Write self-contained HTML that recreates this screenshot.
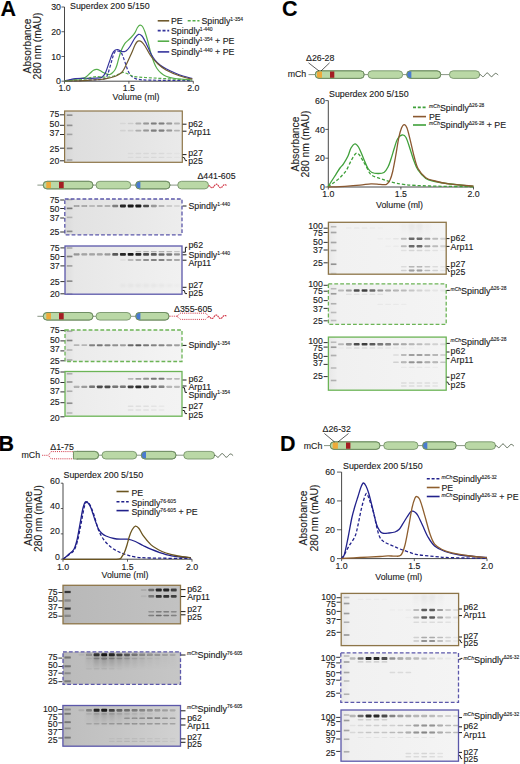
<!DOCTYPE html>
<html><head><meta charset="utf-8"><style>
html,body{margin:0;padding:0;background:#fff;}
svg{display:block;font-family:"Liberation Sans", sans-serif;}
text{stroke:#1a1a1a;stroke-width:0.12px;paint-order:stroke;}
</style></head><body>
<svg width="520" height="764" viewBox="0 0 520 764">
<defs>
<filter id="b1" x="-50%" y="-100%" width="200%" height="300%"><feGaussianBlur stdDeviation="0.6"/></filter>
<filter id="b2" x="-50%" y="-100%" width="200%" height="300%"><feGaussianBlur stdDeviation="1.2"/></filter>
<linearGradient id="g1" x1="0" y1="0" x2="1" y2="0"><stop offset="0" stop-color="#d6d6d6"/><stop offset="0.08" stop-color="#dedede"/><stop offset="0.5" stop-color="#e3e3e3"/><stop offset="1" stop-color="#eaeaea"/></linearGradient>
<linearGradient id="g2" x1="0" y1="0" x2="1" y2="0"><stop offset="0" stop-color="#dadada"/><stop offset="0.08" stop-color="#e2e2e2"/><stop offset="0.6" stop-color="#e8e8e8"/><stop offset="1" stop-color="#ededed"/></linearGradient>
<linearGradient id="g3" x1="0" y1="0" x2="1" y2="0"><stop offset="0" stop-color="#dddddd"/><stop offset="0.08" stop-color="#e7e7e7"/><stop offset="0.6" stop-color="#ededed"/><stop offset="1" stop-color="#f1f1f1"/></linearGradient>
<linearGradient id="g4" x1="0" y1="0" x2="1" y2="0"><stop offset="0" stop-color="#e1e1e1"/><stop offset="0.08" stop-color="#ebebeb"/><stop offset="0.6" stop-color="#f0f0f0"/><stop offset="1" stop-color="#f4f4f4"/></linearGradient>
<linearGradient id="g5" x1="0" y1="0" x2="1" y2="0"><stop offset="0" stop-color="#e3e3e3"/><stop offset="0.08" stop-color="#ececec"/><stop offset="0.6" stop-color="#f1f1f1"/><stop offset="1" stop-color="#f3f3f3"/></linearGradient>
<linearGradient id="g6" x1="0" y1="0" x2="1" y2="0"><stop offset="0" stop-color="#b1b1b1"/><stop offset="0.08" stop-color="#b9b9b9"/><stop offset="0.5" stop-color="#bdbdbd"/><stop offset="1" stop-color="#c2c2c2"/></linearGradient>
<linearGradient id="g7" x1="0" y1="0" x2="1" y2="0"><stop offset="0" stop-color="#b5b5b5"/><stop offset="0.08" stop-color="#bcbcbc"/><stop offset="0.5" stop-color="#c0c0c0"/><stop offset="1" stop-color="#c6c6c6"/></linearGradient>
<linearGradient id="g8" x1="0" y1="0" x2="0" y2="1"><stop offset="0" stop-color="#141414" stop-opacity="1"/><stop offset="1" stop-color="#141414" stop-opacity="0"/></linearGradient>
<linearGradient id="g9" x1="0" y1="0" x2="1" y2="0"><stop offset="0" stop-color="#b8b8b8"/><stop offset="0.08" stop-color="#bfbfbf"/><stop offset="0.5" stop-color="#c6c6c6"/><stop offset="1" stop-color="#d2d2d2"/></linearGradient>
<linearGradient id="g10" x1="0" y1="0" x2="0" y2="1"><stop offset="0" stop-color="#141414" stop-opacity="1"/><stop offset="1" stop-color="#141414" stop-opacity="0"/></linearGradient>
<linearGradient id="g11" x1="0" y1="0" x2="1" y2="0"><stop offset="0" stop-color="#e8e8e8"/><stop offset="0.08" stop-color="#f1f1f1"/><stop offset="1" stop-color="#f4f4f4"/></linearGradient>
<linearGradient id="g12" x1="0" y1="0" x2="0" y2="1"><stop offset="0" stop-color="#141414" stop-opacity="1"/><stop offset="1" stop-color="#141414" stop-opacity="0"/></linearGradient>
<linearGradient id="g13" x1="0" y1="0" x2="1" y2="0"><stop offset="0" stop-color="#e9e9e9"/><stop offset="0.08" stop-color="#f1f1f1"/><stop offset="1" stop-color="#f4f4f4"/></linearGradient>
<linearGradient id="g14" x1="0" y1="0" x2="1" y2="0"><stop offset="0" stop-color="#e8e8e8"/><stop offset="0.08" stop-color="#f0f0f0"/><stop offset="1" stop-color="#f4f4f4"/></linearGradient>
<linearGradient id="g15" x1="0" y1="0" x2="1" y2="0"><stop offset="0" stop-color="#e8e8e8"/><stop offset="0.08" stop-color="#f1f1f1"/><stop offset="1" stop-color="#f4f4f4"/></linearGradient>
<linearGradient id="g16" x1="0" y1="0" x2="0" y2="1"><stop offset="0" stop-color="#141414" stop-opacity="1"/><stop offset="1" stop-color="#141414" stop-opacity="0"/></linearGradient>
<linearGradient id="g17" x1="0" y1="0" x2="1" y2="0"><stop offset="0" stop-color="#e9e9e9"/><stop offset="0.08" stop-color="#f1f1f1"/><stop offset="1" stop-color="#f4f4f4"/></linearGradient>
<linearGradient id="g18" x1="0" y1="0" x2="1" y2="0"><stop offset="0" stop-color="#e8e8e8"/><stop offset="0.08" stop-color="#f0f0f0"/><stop offset="1" stop-color="#f4f4f4"/></linearGradient>
</defs>
<rect width="520" height="764" fill="#fff"/>
<text x="0.60" y="15.60" font-size="21.5" text-anchor="start" font-weight="bold" fill="#000" >A</text>
<text x="-1.60" y="450.90" font-size="21.5" text-anchor="start" font-weight="bold" fill="#000" >B</text>
<text x="282.10" y="15.80" font-size="21.5" text-anchor="start" font-weight="bold" fill="#000" >C</text>
<text x="279.90" y="451.00" font-size="21.5" text-anchor="start" font-weight="bold" fill="#000" >D</text>
<line x1="64.50" y1="7.00" x2="64.50" y2="81.20" stroke="#333" stroke-width="0.9" />
<line x1="64.50" y1="81.20" x2="193.30" y2="81.20" stroke="#333" stroke-width="0.9" />
<line x1="61.50" y1="81.20" x2="64.50" y2="81.20" stroke="#333" stroke-width="0.8" />
<text x="61.00" y="84.30" font-size="8.8" text-anchor="end" font-weight="normal" fill="#1a1a1a" >0</text>
<line x1="61.50" y1="56.47" x2="64.50" y2="56.47" stroke="#333" stroke-width="0.8" />
<text x="61.00" y="59.57" font-size="8.8" text-anchor="end" font-weight="normal" fill="#1a1a1a" >10</text>
<line x1="61.50" y1="31.73" x2="64.50" y2="31.73" stroke="#333" stroke-width="0.8" />
<text x="61.00" y="34.83" font-size="8.8" text-anchor="end" font-weight="normal" fill="#1a1a1a" >20</text>
<line x1="61.50" y1="7.00" x2="64.50" y2="7.00" stroke="#333" stroke-width="0.8" />
<text x="61.00" y="10.10" font-size="8.8" text-anchor="end" font-weight="normal" fill="#1a1a1a" >30</text>
<line x1="64.50" y1="81.20" x2="64.50" y2="83.70" stroke="#333" stroke-width="0.8" />
<text x="64.50" y="90.90" font-size="8.8" text-anchor="middle" font-weight="normal" fill="#1a1a1a" >1.0</text>
<line x1="128.90" y1="81.20" x2="128.90" y2="83.70" stroke="#333" stroke-width="0.8" />
<text x="128.90" y="90.90" font-size="8.8" text-anchor="middle" font-weight="normal" fill="#1a1a1a" >1.5</text>
<line x1="193.30" y1="81.20" x2="193.30" y2="83.70" stroke="#333" stroke-width="0.8" />
<text x="193.30" y="90.90" font-size="8.8" text-anchor="middle" font-weight="normal" fill="#1a1a1a" >2.0</text>
<text x="136.00" y="99.50" font-size="8.8" text-anchor="middle" font-weight="normal" fill="#1a1a1a" >Volume (ml)</text>
<text transform="translate(30.50,46.00) rotate(-90)" font-size="10.3" text-anchor="middle" fill="#1a1a1a">Absorbance</text>
<text transform="translate(41.00,46.00) rotate(-90)" font-size="10.3" text-anchor="middle" fill="#1a1a1a">280 nm (mAU)</text>
<text x="70.00" y="8.60" font-size="8.85" text-anchor="start" font-weight="normal" fill="#1a1a1a" >Superdex 200 5/150</text>
<path d="M64.50,81.00 C65.42,80.88 67.75,80.63 70.00,80.30 C72.25,79.97 75.50,79.47 78.00,79.00 C80.50,78.53 83.00,78.45 85.00,77.50 C87.00,76.55 88.58,74.50 90.00,73.30 C91.42,72.10 92.35,70.95 93.50,70.30 C94.65,69.65 95.73,69.32 96.90,69.40 C98.07,69.48 99.35,70.23 100.50,70.80 C101.65,71.37 102.72,72.23 103.80,72.80 C104.88,73.37 105.98,73.92 107.00,74.20 C108.02,74.48 108.98,74.73 109.90,74.50 C110.82,74.27 111.65,73.58 112.50,72.80 C113.35,72.02 114.28,71.02 115.00,69.80 C115.72,68.58 116.22,67.23 116.80,65.50 C117.38,63.77 117.78,61.85 118.50,59.40 C119.22,56.95 120.08,53.40 121.10,50.80 C122.12,48.20 123.45,45.53 124.60,43.80 C125.75,42.07 126.85,41.53 128.00,40.40 C129.15,39.27 130.33,38.30 131.50,37.00 C132.67,35.70 134.00,34.18 135.00,32.60 C136.00,31.02 136.67,28.75 137.50,27.50 C138.33,26.25 139.17,25.27 140.00,25.10 C140.83,24.93 141.67,25.35 142.50,26.50 C143.33,27.65 144.08,29.42 145.00,32.00 C145.92,34.58 147.03,38.50 148.00,42.00 C148.97,45.50 149.80,49.58 150.80,53.00 C151.80,56.42 152.97,59.92 154.00,62.50 C155.03,65.08 155.83,66.75 157.00,68.50 C158.17,70.25 159.50,71.72 161.00,73.00 C162.50,74.28 163.67,75.28 166.00,76.20 C168.33,77.12 170.62,77.87 175.00,78.50 C179.38,79.13 189.42,79.75 192.30,80.00" fill="none" stroke="#55ad4a" stroke-width="1.2" stroke-linejoin="round" />
<path d="M64.50,81.00 C65.42,80.77 68.18,80.00 70.00,79.60 C71.82,79.20 72.90,78.82 75.40,78.60 C77.90,78.38 81.73,78.37 85.00,78.30 C88.27,78.23 92.15,78.40 95.00,78.20 C97.85,78.00 100.33,78.07 102.10,77.10 C103.87,76.13 104.45,74.77 105.60,72.40 C106.75,70.03 107.85,66.07 109.00,62.90 C110.15,59.73 111.50,55.50 112.50,53.40 C113.50,51.30 114.13,50.95 115.00,50.30 C115.87,49.65 116.87,49.47 117.70,49.50 C118.53,49.53 119.28,50.15 120.00,50.50 C120.72,50.85 121.33,51.42 122.00,51.60 C122.67,51.78 123.28,51.73 124.00,51.60 C124.72,51.47 125.30,51.65 126.30,50.80 C127.30,49.95 128.55,48.67 130.00,46.50 C131.45,44.33 133.58,39.83 135.00,37.80 C136.42,35.77 137.33,34.60 138.50,34.30 C139.67,34.00 140.75,34.55 142.00,36.00 C143.25,37.45 144.53,40.08 146.00,43.00 C147.47,45.92 149.30,50.67 150.80,53.50 C152.30,56.33 153.47,58.08 155.00,60.00 C156.53,61.92 158.17,63.53 160.00,65.00 C161.83,66.47 163.50,67.47 166.00,68.80 C168.50,70.13 172.17,71.80 175.00,73.00 C177.83,74.20 180.12,75.08 183.00,76.00 C185.88,76.92 190.75,78.08 192.30,78.50" fill="none" stroke="#35349c" stroke-width="1.2" stroke-linejoin="round" />
<path d="M64.50,81.00 C67.08,80.93 74.92,80.80 80.00,80.60 C85.08,80.40 91.33,80.03 95.00,79.80 C98.67,79.57 100.23,79.43 102.00,79.20 C103.77,78.97 104.63,79.27 105.60,78.40 C106.57,77.53 107.08,75.87 107.80,74.00 C108.52,72.13 109.23,69.45 109.90,67.20 C110.57,64.95 111.22,62.52 111.80,60.50 C112.38,58.48 112.87,56.52 113.40,55.10 C113.93,53.68 114.43,52.72 115.00,52.00 C115.57,51.28 116.13,50.92 116.80,50.80 C117.47,50.68 118.28,51.02 119.00,51.30 C119.72,51.58 120.47,51.72 121.10,52.50 C121.73,53.28 122.22,54.57 122.80,56.00 C123.38,57.43 124.02,59.43 124.60,61.10 C125.18,62.77 125.73,64.40 126.30,66.00 C126.87,67.60 127.22,69.12 128.00,70.70 C128.78,72.28 129.83,74.22 131.00,75.50 C132.17,76.78 133.17,77.68 135.00,78.40 C136.83,79.12 137.83,79.48 142.00,79.80 C146.17,80.12 151.67,80.17 160.00,80.30 C168.33,80.43 186.67,80.55 192.00,80.60" fill="none" stroke="#35349c" stroke-width="1.2" stroke-linejoin="round" stroke-dasharray="3,1.8"/>
<path d="M64.50,81.00 C66.25,80.88 71.58,80.63 75.00,80.30 C78.42,79.97 82.17,79.52 85.00,79.00 C87.83,78.48 90.02,77.60 92.00,77.20 C93.98,76.80 95.23,76.63 96.90,76.60 C98.57,76.57 100.27,76.92 102.00,77.00 C103.73,77.08 105.30,77.27 107.30,77.10 C109.30,76.93 112.05,76.52 114.00,76.00 C115.95,75.48 117.52,74.60 119.00,74.00 C120.48,73.40 121.57,72.48 122.90,72.40 C124.23,72.32 125.65,72.98 127.00,73.50 C128.35,74.02 129.67,74.97 131.00,75.50 C132.33,76.03 132.67,76.37 135.00,76.70 C137.33,77.03 139.83,77.17 145.00,77.50 C150.17,77.83 158.17,78.28 166.00,78.70 C173.83,79.12 187.67,79.78 192.00,80.00" fill="none" stroke="#55ad4a" stroke-width="1.2" stroke-linejoin="round" stroke-dasharray="3,1.8"/>
<path d="M64.50,81.00 C67.08,80.97 75.75,80.93 80.00,80.80 C84.25,80.67 86.67,80.42 90.00,80.20 C93.33,79.98 97.12,79.80 100.00,79.50 C102.88,79.20 105.13,78.82 107.30,78.40 C109.47,77.98 111.30,77.53 113.00,77.00 C114.70,76.47 116.17,75.87 117.50,75.20 C118.83,74.53 119.95,73.95 121.00,73.00 C122.05,72.05 122.92,70.90 123.80,69.50 C124.68,68.10 125.15,67.00 126.30,64.60 C127.45,62.20 129.25,58.35 130.70,55.10 C132.15,51.85 133.90,47.37 135.00,45.10 C136.10,42.83 136.60,42.22 137.30,41.50 C138.00,40.78 138.50,40.75 139.20,40.80 C139.90,40.85 140.53,40.93 141.50,41.80 C142.47,42.67 143.45,43.63 145.00,46.00 C146.55,48.37 148.63,53.00 150.80,56.00 C152.97,59.00 155.47,61.67 158.00,64.00 C160.53,66.33 162.33,68.00 166.00,70.00 C169.67,72.00 175.62,74.47 180.00,76.00 C184.38,77.53 190.25,78.67 192.30,79.20" fill="none" stroke="#6f5a2e" stroke-width="1.2" stroke-linejoin="round" />
<line x1="157.70" y1="20.80" x2="169.20" y2="20.80" stroke="#6f5a2e" stroke-width="1.6" />
<text x="171.00" y="24.00" font-size="8.8" text-anchor="start" font-weight="normal" fill="#1a1a1a" >PE</text>
<line x1="187.70" y1="20.80" x2="199.50" y2="20.80" stroke="#55ad4a" stroke-width="1.6" stroke-dasharray="3,1.8"/>
<text x="201.50" y="24.00" text-anchor="start" fill="#1a1a1a"><tspan font-size="8.8" dy="0">Spindly</tspan><tspan font-size="5.0" dy="-3.2">1-354</tspan></text>
<line x1="157.70" y1="30.60" x2="169.20" y2="30.60" stroke="#35349c" stroke-width="1.6" stroke-dasharray="3,1.8"/>
<text x="171.00" y="33.80" text-anchor="start" fill="#1a1a1a"><tspan font-size="8.8" dy="0">Spindly</tspan><tspan font-size="5.0" dy="-3.2">1-440</tspan></text>
<line x1="157.70" y1="41.20" x2="169.20" y2="41.20" stroke="#55ad4a" stroke-width="1.6" />
<text x="171.00" y="44.40" text-anchor="start" fill="#1a1a1a"><tspan font-size="8.8" dy="0">Spindly</tspan><tspan font-size="5.0" dy="-3.2">1-354</tspan><tspan font-size="8.8" dy="3.2"> + PE</tspan></text>
<line x1="157.70" y1="51.90" x2="169.20" y2="51.90" stroke="#35349c" stroke-width="1.6" />
<text x="171.00" y="55.00" text-anchor="start" fill="#1a1a1a"><tspan font-size="8.8" dy="0">Spindly</tspan><tspan font-size="5.0" dy="-3.2">1-440</tspan><tspan font-size="8.8" dy="3.2"> + PE</tspan></text>
<line x1="37.40" y1="185.10" x2="43.20" y2="185.10" stroke="#6b7b66" stroke-width="0.8" />
<line x1="93.00" y1="185.10" x2="96.00" y2="185.10" stroke="#6b7b66" stroke-width="0.8" />
<line x1="130.80" y1="185.10" x2="135.70" y2="185.10" stroke="#6b7b66" stroke-width="0.8" />
<line x1="170.00" y1="185.10" x2="177.70" y2="185.10" stroke="#6b7b66" stroke-width="0.8" />
<rect x="43.20" y="181.30" width="49.80" height="7.60" rx="3.80" ry="3.80" fill="#bad8a6" stroke="#6b8a5e" stroke-width="0.8" />
<rect x="96.00" y="181.30" width="34.80" height="7.60" rx="3.80" ry="3.80" fill="#bad8a6" stroke="#6b8a5e" stroke-width="0.8" />
<rect x="135.70" y="181.30" width="34.30" height="7.60" rx="3.80" ry="3.80" fill="#bad8a6" stroke="#6b8a5e" stroke-width="0.8" />
<rect x="177.70" y="181.30" width="30.80" height="7.60" rx="3.80" ry="3.80" fill="#bad8a6" stroke="#6b8a5e" stroke-width="0.8" />
<rect x="46.30" y="181.90" width="4.70" height="6.40" fill="#eeaa3a"/>
<rect x="59.00" y="181.90" width="4.70" height="6.40" fill="#a41d22"/>
<path d="M139.50,181.70 A3.40,3.40 0 0 0 139.50,188.50 L140.40,188.50 L140.40,181.70 Z" fill="#4a7bd0"/>
<rect x="43.20" y="181.30" width="49.80" height="7.6" rx="3.8" ry="3.8" fill="none" stroke="#6b8a5e" stroke-width="0.8"/>
<rect x="135.70" y="181.30" width="34.30" height="7.6" rx="3.8" ry="3.8" fill="none" stroke="#6b8a5e" stroke-width="0.8"/>
<path d="M208.80,186.00 L209.31,185.89 L209.81,185.96 L210.32,186.49 L210.82,187.09 L211.33,187.53 L211.83,187.77 L212.34,187.77 L212.84,187.52 L213.35,187.07 L213.86,186.47 L214.36,185.81 L214.87,185.17 L215.37,184.65 L215.88,184.31 L216.38,184.20 L216.89,184.34 L217.39,184.70 L217.90,185.24 L218.41,185.89 L218.91,186.55 L219.42,187.13 L219.92,187.56 L220.43,187.78 L220.93,187.76 L221.44,187.49 L221.94,187.00 L222.45,186.39 L222.96,185.78 L223.46,185.23 L223.97,184.83 L224.47,184.62 L224.98,184.61 L225.48,184.79 L225.99,185.11 L226.49,185.52 L227.00,185.96" fill="none" stroke="#d23a4a" stroke-width="1.2" stroke-linecap="round" stroke-linejoin="round" stroke-dasharray="0.8,1.6"/>
<text x="197.40" y="178.50" font-size="8.8" text-anchor="start" font-weight="normal" fill="#1a1a1a" >Δ441-605</text>
<line x1="37.40" y1="316.30" x2="43.20" y2="316.30" stroke="#6b7b66" stroke-width="0.8" />
<line x1="93.00" y1="316.30" x2="96.00" y2="316.30" stroke="#6b7b66" stroke-width="0.8" />
<line x1="130.80" y1="316.30" x2="135.70" y2="316.30" stroke="#6b7b66" stroke-width="0.8" />
<rect x="43.20" y="312.50" width="49.80" height="7.60" rx="3.80" ry="3.80" fill="#bad8a6" stroke="#6b8a5e" stroke-width="0.8" />
<rect x="96.00" y="312.50" width="34.80" height="7.60" rx="3.80" ry="3.80" fill="#bad8a6" stroke="#6b8a5e" stroke-width="0.8" />
<rect x="135.70" y="312.50" width="33.30" height="7.60" rx="3.80" ry="3.80" fill="#bad8a6" stroke="#6b8a5e" stroke-width="0.8" />
<rect x="46.30" y="313.10" width="4.70" height="6.40" fill="#eeaa3a"/>
<rect x="59.00" y="313.10" width="4.70" height="6.40" fill="#a41d22"/>
<path d="M139.50,312.90 A3.40,3.40 0 0 0 139.50,319.70 L140.40,319.70 L140.40,312.90 Z" fill="#4a7bd0"/>
<rect x="43.20" y="312.50" width="49.80" height="7.6" rx="3.8" ry="3.8" fill="none" stroke="#6b8a5e" stroke-width="0.8"/>
<rect x="135.70" y="312.50" width="33.30" height="7.6" rx="3.8" ry="3.8" fill="none" stroke="#6b8a5e" stroke-width="0.8"/>
<line x1="169.60" y1="316.20" x2="176.80" y2="316.20" stroke="#cf2f40" stroke-width="1.0" stroke-dasharray="1,1.1"/>
<polygon points="176.8,316.2 180.6,313.2 205.6,313.2 208.6,316.2 205.6,319.4 180.6,319.4" fill="none" stroke="#cf2f40" stroke-width="1.0" stroke-dasharray="1,1.1"/>
<path d="M208.50,316.80 L209.01,316.69 L209.53,316.76 L210.04,317.29 L210.56,317.89 L211.07,318.33 L211.58,318.57 L212.10,318.57 L212.61,318.32 L213.12,317.87 L213.64,317.27 L214.15,316.61 L214.67,315.97 L215.18,315.45 L215.69,315.11 L216.21,315.00 L216.72,315.14 L217.24,315.50 L217.75,316.04 L218.26,316.69 L218.78,317.35 L219.29,317.93 L219.81,318.36 L220.32,318.58 L220.83,318.56 L221.35,318.29 L221.86,317.80 L222.38,317.19 L222.89,316.58 L223.40,316.03 L223.92,315.63 L224.43,315.42 L224.94,315.41 L225.46,315.59 L225.97,315.91 L226.49,316.32 L227.00,316.76" fill="none" stroke="#d23a4a" stroke-width="1.2" stroke-linecap="round" stroke-linejoin="round" stroke-dasharray="0.8,1.6"/>
<text x="174.00" y="311.50" font-size="8.8" text-anchor="start" font-weight="normal" fill="#1a1a1a" >Δ355-605</text>
<text x="21.50" y="458.00" font-size="8.8" text-anchor="start" font-weight="normal" fill="#1a1a1a" >mCh</text>
<line x1="42.20" y1="455.30" x2="48.40" y2="455.30" stroke="#cf2f40" stroke-width="1.0" stroke-dasharray="1,1.1"/>
<polygon points="48.4,455.3 51.0,451.6 73.4,451.6 73.4,458.8 51.0,458.8" fill="none" stroke="#cf2f40" stroke-width="1.0" stroke-dasharray="1,1.1"/>
<line x1="98.60" y1="455.20" x2="102.00" y2="455.20" stroke="#6b7b66" stroke-width="0.8" />
<line x1="136.70" y1="455.20" x2="141.30" y2="455.20" stroke="#6b7b66" stroke-width="0.8" />
<line x1="176.00" y1="455.20" x2="183.70" y2="455.20" stroke="#6b7b66" stroke-width="0.8" />
<rect x="73.50" y="451.40" width="25.10" height="7.60" rx="3.80" ry="3.80" fill="#bad8a6" stroke="#6b8a5e" stroke-width="0.8" />
<rect x="102.00" y="451.40" width="34.70" height="7.60" rx="3.80" ry="3.80" fill="#bad8a6" stroke="#6b8a5e" stroke-width="0.8" />
<rect x="141.30" y="451.40" width="34.70" height="7.60" rx="3.80" ry="3.80" fill="#bad8a6" stroke="#6b8a5e" stroke-width="0.8" />
<rect x="183.70" y="451.40" width="30.90" height="7.60" rx="3.80" ry="3.80" fill="#bad8a6" stroke="#6b8a5e" stroke-width="0.8" />
<path d="M145.10,451.80 A3.40,3.40 0 0 0 145.10,458.60 L146.00,458.60 L146.00,451.80 Z" fill="#4a7bd0"/>
<rect x="73.50" y="451.40" width="25.10" height="7.6" rx="3.8" ry="3.8" fill="none" stroke="#6b8a5e" stroke-width="0.8"/>
<rect x="141.30" y="451.40" width="34.70" height="7.6" rx="3.8" ry="3.8" fill="none" stroke="#6b8a5e" stroke-width="0.8"/>
<rect x="73.2" y="451.4" width="4" height="7.6" fill="#bad8a6" stroke="none"/>
<line x1="73.50" y1="451.40" x2="73.50" y2="459.00" stroke="#6b8a5e" stroke-width="0.8" />
<line x1="73.50" y1="451.40" x2="78.00" y2="451.40" stroke="#6b8a5e" stroke-width="0.8" />
<line x1="73.50" y1="459.00" x2="78.00" y2="459.00" stroke="#6b8a5e" stroke-width="0.8" />
<path d="M214.60,455.40 L215.11,455.29 L215.61,455.36 L216.12,455.89 L216.62,456.49 L217.13,456.93 L217.63,457.17 L218.14,457.17 L218.64,456.92 L219.15,456.47 L219.66,455.87 L220.16,455.21 L220.67,454.57 L221.17,454.05 L221.68,453.71 L222.18,453.60 L222.69,453.74 L223.19,454.10 L223.70,454.64 L224.21,455.29 L224.71,455.95 L225.22,456.53 L225.72,456.96 L226.23,457.18 L226.73,457.16 L227.24,456.89 L227.74,456.40 L228.25,455.79 L228.76,455.18 L229.26,454.63 L229.77,454.23 L230.27,454.02 L230.78,454.01 L231.28,454.19 L231.79,454.51 L232.29,454.92 L232.80,455.36" fill="none" stroke="#55654f" stroke-width="1.0" stroke-linecap="round" stroke-linejoin="round" />
<text x="50.30" y="450.00" font-size="8.8" text-anchor="start" font-weight="normal" fill="#1a1a1a" >Δ1-75</text>
<line x1="63.00" y1="483.20" x2="63.00" y2="559.20" stroke="#333" stroke-width="0.9" />
<line x1="63.00" y1="559.20" x2="192.00" y2="559.20" stroke="#333" stroke-width="0.9" />
<line x1="60.80" y1="559.20" x2="63.00" y2="559.20" stroke="#333" stroke-width="0.8" />
<text x="59.90" y="559.60" font-size="8.8" text-anchor="end" font-weight="normal" fill="#1a1a1a" >0</text>
<line x1="60.80" y1="533.87" x2="63.00" y2="533.87" stroke="#333" stroke-width="0.8" />
<text x="59.90" y="534.27" font-size="8.8" text-anchor="end" font-weight="normal" fill="#1a1a1a" >20</text>
<line x1="60.80" y1="508.53" x2="63.00" y2="508.53" stroke="#333" stroke-width="0.8" />
<text x="59.90" y="508.93" font-size="8.8" text-anchor="end" font-weight="normal" fill="#1a1a1a" >40</text>
<line x1="60.80" y1="483.20" x2="63.00" y2="483.20" stroke="#333" stroke-width="0.8" />
<text x="59.90" y="483.60" font-size="8.8" text-anchor="end" font-weight="normal" fill="#1a1a1a" >60</text>
<line x1="63.00" y1="559.20" x2="63.00" y2="561.70" stroke="#333" stroke-width="0.8" />
<text x="63.00" y="569.80" font-size="8.8" text-anchor="middle" font-weight="normal" fill="#1a1a1a" >1.0</text>
<line x1="127.50" y1="559.20" x2="127.50" y2="561.70" stroke="#333" stroke-width="0.8" />
<text x="127.50" y="569.80" font-size="8.8" text-anchor="middle" font-weight="normal" fill="#1a1a1a" >1.5</text>
<line x1="192.00" y1="559.20" x2="192.00" y2="561.70" stroke="#333" stroke-width="0.8" />
<text x="192.00" y="569.80" font-size="8.8" text-anchor="middle" font-weight="normal" fill="#1a1a1a" >2.0</text>
<text x="125.00" y="578.00" font-size="8.8" text-anchor="middle" font-weight="normal" fill="#1a1a1a" >Volume (ml)</text>
<text transform="translate(31.90,518.50) rotate(-90)" font-size="10.3" text-anchor="middle" fill="#1a1a1a">Absorbance</text>
<text transform="translate(41.80,518.50) rotate(-90)" font-size="10.3" text-anchor="middle" fill="#1a1a1a">280 nm (mAU)</text>
<text x="63.50" y="477.70" font-size="8.85" text-anchor="start" font-weight="normal" fill="#1a1a1a" >Superdex 200 5/150</text>
<path d="M63.00,559.20 C63.83,558.50 66.20,556.62 68.00,555.00 C69.80,553.38 72.30,552.00 73.80,549.50 C75.30,547.00 75.97,544.25 77.00,540.00 C78.03,535.75 79.00,529.33 80.00,524.00 C81.00,518.67 82.07,511.70 83.00,508.00 C83.93,504.30 84.68,502.55 85.60,501.80 C86.52,501.05 87.60,502.47 88.50,503.50 C89.40,504.53 89.92,505.25 91.00,508.00 C92.08,510.75 93.75,516.50 95.00,520.00 C96.25,523.50 97.33,526.75 98.50,529.00 C99.67,531.25 100.75,532.33 102.00,533.50 C103.25,534.67 104.00,535.17 106.00,536.00 C108.00,536.83 111.42,537.97 114.00,538.50 C116.58,539.03 119.22,539.08 121.50,539.20 C123.78,539.32 125.38,538.82 127.70,539.20 C130.02,539.58 132.85,540.45 135.40,541.50 C137.95,542.55 140.43,544.22 143.00,545.50 C145.57,546.78 146.97,547.68 150.80,549.20 C154.63,550.72 161.13,553.30 166.00,554.60 C170.87,555.90 175.87,556.48 180.00,557.00 C184.13,557.52 189.00,557.58 190.80,557.70" fill="none" stroke="#20208a" stroke-width="1.3" stroke-linejoin="round" />
<path d="M63.00,559.20 C63.83,558.58 66.20,556.95 68.00,555.50 C69.80,554.05 72.22,552.92 73.80,550.50 C75.38,548.08 76.30,545.42 77.50,541.00 C78.70,536.58 79.83,529.83 81.00,524.00 C82.17,518.17 83.50,509.67 84.50,506.00 C85.50,502.33 86.08,502.17 87.00,502.00 C87.92,501.83 88.83,502.83 90.00,505.00 C91.17,507.17 92.58,510.83 94.00,515.00 C95.42,519.17 96.83,525.83 98.50,530.00 C100.17,534.17 101.95,537.17 104.00,540.00 C106.05,542.83 108.47,545.08 110.80,547.00 C113.13,548.92 115.43,550.23 118.00,551.50 C120.57,552.77 123.30,553.68 126.20,554.60 C129.10,555.52 131.43,556.43 135.40,557.00 C139.37,557.57 140.77,557.75 150.00,558.00 C159.23,558.25 184.00,558.42 190.80,558.50" fill="none" stroke="#20208a" stroke-width="1.3" stroke-linejoin="round" stroke-dasharray="3.2,2"/>
<path d="M63.00,559.40 C69.17,559.38 90.75,559.33 100.00,559.30 C109.25,559.27 114.83,559.67 118.50,559.20 C122.17,558.73 120.98,557.70 122.00,556.50 C123.02,555.30 123.77,553.92 124.60,552.00 C125.43,550.08 126.23,547.50 127.00,545.00 C127.77,542.50 128.37,539.50 129.20,537.00 C130.03,534.50 130.97,531.80 132.00,530.00 C133.03,528.20 134.23,526.45 135.40,526.20 C136.57,525.95 137.73,526.97 139.00,528.50 C140.27,530.03 141.03,532.72 143.00,535.40 C144.97,538.08 148.30,542.25 150.80,544.60 C153.30,546.95 155.47,548.10 158.00,549.50 C160.53,550.90 162.67,551.92 166.00,553.00 C169.33,554.08 173.87,555.22 178.00,556.00 C182.13,556.78 188.67,557.42 190.80,557.70" fill="none" stroke="#6b5520" stroke-width="1.3" stroke-linejoin="round" />
<line x1="116.50" y1="491.50" x2="128.70" y2="491.50" stroke="#6b5520" stroke-width="1.6" />
<text x="131.50" y="495.60" font-size="8.8" text-anchor="start" font-weight="normal" fill="#1a1a1a" >PE</text>
<line x1="116.50" y1="501.80" x2="128.70" y2="501.80" stroke="#20208a" stroke-width="1.6" stroke-dasharray="3,1.8"/>
<text x="131.50" y="505.90" text-anchor="start" fill="#1a1a1a"><tspan font-size="8.8" dy="0">Spindly</tspan><tspan font-size="5.0" dy="-3.2">76-605</tspan></text>
<line x1="116.50" y1="510.60" x2="128.70" y2="510.60" stroke="#20208a" stroke-width="1.6" />
<text x="131.50" y="515.30" text-anchor="start" fill="#1a1a1a"><tspan font-size="8.8" dy="0">Spindly</tspan><tspan font-size="5.0" dy="-3.2">76-605</tspan><tspan font-size="8.8" dy="3.2"> + PE</tspan></text>
<text x="287.70" y="77.20" font-size="8.8" text-anchor="start" font-weight="normal" fill="#1a1a1a" >mCh</text>
<line x1="308.50" y1="74.60" x2="315.20" y2="74.60" stroke="#6b7b66" stroke-width="0.8" />
<line x1="364.20" y1="74.60" x2="368.00" y2="74.60" stroke="#6b7b66" stroke-width="0.8" />
<line x1="402.70" y1="74.60" x2="406.70" y2="74.60" stroke="#6b7b66" stroke-width="0.8" />
<line x1="440.80" y1="74.60" x2="449.40" y2="74.60" stroke="#6b7b66" stroke-width="0.8" />
<rect x="315.20" y="70.80" width="49.00" height="7.60" rx="3.80" ry="3.80" fill="#bad8a6" stroke="#6b8a5e" stroke-width="0.8" />
<rect x="368.00" y="70.80" width="34.70" height="7.60" rx="3.80" ry="3.80" fill="#bad8a6" stroke="#6b8a5e" stroke-width="0.8" />
<rect x="406.70" y="70.80" width="34.10" height="7.60" rx="3.80" ry="3.80" fill="#bad8a6" stroke="#6b8a5e" stroke-width="0.8" />
<rect x="449.40" y="70.80" width="30.30" height="7.60" rx="3.80" ry="3.80" fill="#bad8a6" stroke="#6b8a5e" stroke-width="0.8" />
<rect x="317.00" y="71.40" width="5.00" height="6.40" fill="#eeaa3a"/>
<rect x="330.00" y="71.40" width="4.30" height="6.40" fill="#a41d22"/>
<path d="M410.50,71.20 A3.40,3.40 0 0 0 410.50,78.00 L411.40,78.00 L411.40,71.20 Z" fill="#4a7bd0"/>
<rect x="315.20" y="70.80" width="49.00" height="7.6" rx="3.8" ry="3.8" fill="none" stroke="#6b8a5e" stroke-width="0.8"/>
<rect x="406.70" y="70.80" width="34.10" height="7.6" rx="3.8" ry="3.8" fill="none" stroke="#6b8a5e" stroke-width="0.8"/>
<path d="M479.70,74.80 L480.21,74.69 L480.71,74.76 L481.22,75.29 L481.72,75.89 L482.23,76.33 L482.73,76.57 L483.24,76.57 L483.74,76.32 L484.25,75.87 L484.76,75.27 L485.26,74.61 L485.77,73.97 L486.27,73.45 L486.78,73.11 L487.28,73.00 L487.79,73.14 L488.29,73.50 L488.80,74.04 L489.31,74.69 L489.81,75.35 L490.32,75.93 L490.82,76.36 L491.33,76.58 L491.83,76.56 L492.34,76.29 L492.84,75.80 L493.35,75.19 L493.86,74.58 L494.36,74.03 L494.87,73.63 L495.37,73.42 L495.88,73.41 L496.38,73.59 L496.89,73.91 L497.39,74.32 L497.90,74.76" fill="none" stroke="#55654f" stroke-width="1.0" stroke-linecap="round" stroke-linejoin="round" />
<text x="306.00" y="60.80" font-size="8.8" text-anchor="start" font-weight="normal" fill="#1a1a1a" >Δ26-28</text>
<line x1="308.50" y1="62.80" x2="319.00" y2="71.00" stroke="#1a1a1a" stroke-width="0.7" />
<line x1="329.60" y1="62.80" x2="321.00" y2="71.00" stroke="#1a1a1a" stroke-width="0.7" />
<line x1="328.30" y1="100.60" x2="328.30" y2="187.00" stroke="#333" stroke-width="0.9" />
<line x1="328.30" y1="187.00" x2="473.50" y2="187.00" stroke="#333" stroke-width="0.9" />
<line x1="325.30" y1="187.00" x2="328.30" y2="187.00" stroke="#333" stroke-width="0.8" />
<text x="324.80" y="190.10" font-size="8.8" text-anchor="end" font-weight="normal" fill="#1a1a1a" >0</text>
<line x1="325.30" y1="158.20" x2="328.30" y2="158.20" stroke="#333" stroke-width="0.8" />
<text x="324.80" y="161.30" font-size="8.8" text-anchor="end" font-weight="normal" fill="#1a1a1a" >20</text>
<line x1="325.30" y1="129.40" x2="328.30" y2="129.40" stroke="#333" stroke-width="0.8" />
<text x="324.80" y="132.50" font-size="8.8" text-anchor="end" font-weight="normal" fill="#1a1a1a" >40</text>
<line x1="325.30" y1="100.60" x2="328.30" y2="100.60" stroke="#333" stroke-width="0.8" />
<text x="324.80" y="103.70" font-size="8.8" text-anchor="end" font-weight="normal" fill="#1a1a1a" >60</text>
<line x1="328.30" y1="187.00" x2="328.30" y2="189.50" stroke="#333" stroke-width="0.8" />
<text x="328.30" y="197.10" font-size="8.8" text-anchor="middle" font-weight="normal" fill="#1a1a1a" >1.0</text>
<line x1="400.90" y1="187.00" x2="400.90" y2="189.50" stroke="#333" stroke-width="0.8" />
<text x="400.90" y="197.10" font-size="8.8" text-anchor="middle" font-weight="normal" fill="#1a1a1a" >1.5</text>
<line x1="473.50" y1="187.00" x2="473.50" y2="189.50" stroke="#333" stroke-width="0.8" />
<text x="473.50" y="197.10" font-size="8.8" text-anchor="middle" font-weight="normal" fill="#1a1a1a" >2.0</text>
<text x="399.50" y="208.00" font-size="8.8" text-anchor="middle" font-weight="normal" fill="#1a1a1a" >Volume (ml)</text>
<text transform="translate(298.50,144.00) rotate(-90)" font-size="10.3" text-anchor="middle" fill="#1a1a1a">Absorbance</text>
<text transform="translate(309.00,144.00) rotate(-90)" font-size="10.3" text-anchor="middle" fill="#1a1a1a">280 nm (mAU)</text>
<text x="329.00" y="97.10" font-size="8.85" text-anchor="start" font-weight="normal" fill="#1a1a1a" >Superdex 200 5/150</text>
<path d="M328.00,186.80 C328.50,186.00 329.70,184.03 331.00,182.00 C332.30,179.97 334.30,176.93 335.80,174.60 C337.30,172.27 338.72,169.80 340.00,168.00 C341.28,166.20 342.17,165.80 343.50,163.80 C344.83,161.80 346.75,158.63 348.00,156.00 C349.25,153.37 349.83,150.03 351.00,148.00 C352.17,145.97 353.75,143.97 355.00,143.80 C356.25,143.63 357.35,145.20 358.50,147.00 C359.65,148.80 360.82,152.10 361.90,154.60 C362.98,157.10 363.98,159.68 365.00,162.00 C366.02,164.32 366.83,166.75 368.00,168.50 C369.17,170.25 370.33,171.67 372.00,172.50 C373.67,173.33 376.00,173.50 378.00,173.50 C380.00,173.50 382.33,173.58 384.00,172.50 C385.67,171.42 386.83,169.25 388.00,167.00 C389.17,164.75 389.97,162.08 391.00,159.00 C392.03,155.92 393.12,151.83 394.20,148.50 C395.28,145.17 396.20,141.25 397.50,139.00 C398.80,136.75 400.58,135.25 402.00,135.00 C403.42,134.75 404.60,135.00 406.00,137.50 C407.40,140.00 409.07,146.08 410.40,150.00 C411.73,153.92 412.73,157.67 414.00,161.00 C415.27,164.33 416.03,167.08 418.00,170.00 C419.97,172.92 422.97,176.58 425.80,178.50 C428.63,180.42 430.97,180.58 435.00,181.50 C439.03,182.42 443.58,183.17 450.00,184.00 C456.42,184.83 469.58,186.08 473.50,186.50" fill="none" stroke="#3fa03a" stroke-width="1.3" stroke-linejoin="round" />
<path d="M328.00,186.80 C328.67,186.33 330.45,185.13 332.00,184.00 C333.55,182.87 335.63,181.42 337.30,180.00 C338.97,178.58 340.47,177.17 342.00,175.50 C343.53,173.83 345.00,172.42 346.50,170.00 C348.00,167.58 349.45,163.75 351.00,161.00 C352.55,158.25 354.47,154.58 355.80,153.50 C357.13,152.42 357.97,153.55 359.00,154.50 C360.03,155.45 360.83,157.28 362.00,159.20 C363.17,161.12 364.50,163.43 366.00,166.00 C367.50,168.57 368.67,172.52 371.00,174.60 C373.33,176.68 376.90,177.35 380.00,178.50 C383.10,179.65 385.43,180.48 389.60,181.50 C393.77,182.52 398.27,183.85 405.00,184.60 C411.73,185.35 418.58,185.63 430.00,186.00 C441.42,186.37 466.25,186.67 473.50,186.80" fill="none" stroke="#3fa03a" stroke-width="1.3" stroke-linejoin="round" stroke-dasharray="3.2,2"/>
<path d="M328.00,187.00 C330.83,186.88 339.67,186.60 345.00,186.30 C350.33,186.00 355.67,185.62 360.00,185.20 C364.33,184.78 367.67,183.95 371.00,183.80 C374.33,183.65 377.42,184.20 380.00,184.30 C382.58,184.40 384.83,185.12 386.50,184.40 C388.17,183.68 388.97,182.15 390.00,180.00 C391.03,177.85 391.78,175.33 392.70,171.50 C393.62,167.67 394.48,162.63 395.50,157.00 C396.52,151.37 397.80,142.53 398.80,137.70 C399.80,132.87 400.60,130.18 401.50,128.00 C402.40,125.82 403.28,124.60 404.20,124.60 C405.12,124.60 405.97,125.30 407.00,128.00 C408.03,130.70 409.23,136.13 410.40,140.80 C411.57,145.47 412.73,151.38 414.00,156.00 C415.27,160.62 416.03,164.88 418.00,168.50 C419.97,172.12 422.97,175.62 425.80,177.70 C428.63,179.78 431.17,179.98 435.00,181.00 C438.83,182.02 442.38,182.93 448.80,183.80 C455.22,184.67 469.38,185.80 473.50,186.20" fill="none" stroke="#8a5830" stroke-width="1.3" stroke-linejoin="round" />
<line x1="413.00" y1="107.40" x2="426.00" y2="107.40" stroke="#3fa03a" stroke-width="1.6" stroke-dasharray="3,1.8"/>
<text x="429.00" y="110.50" text-anchor="start" fill="#1a1a1a"><tspan font-size="5.2" dy="-3.0" font-style="italic">mCh</tspan><tspan font-size="8.8" dy="3.0">Spindly</tspan><tspan font-size="4.8" dy="-3.2">Δ26-28</tspan></text>
<line x1="413.00" y1="116.60" x2="426.00" y2="116.60" stroke="#8a5830" stroke-width="1.6" />
<text x="429.00" y="119.80" font-size="8.8" text-anchor="start" font-weight="normal" fill="#1a1a1a" >PE</text>
<line x1="413.00" y1="125.00" x2="426.00" y2="125.00" stroke="#3fa03a" stroke-width="1.6" />
<text x="429.00" y="128.20" text-anchor="start" fill="#1a1a1a"><tspan font-size="5.2" dy="-3.0" font-style="italic">mCh</tspan><tspan font-size="8.8" dy="3.0">Spindly</tspan><tspan font-size="4.8" dy="-3.2">Δ26-28</tspan><tspan font-size="8.8" dy="3.2"> + PE</tspan></text>
<text x="303.80" y="448.60" font-size="8.8" text-anchor="start" font-weight="normal" fill="#1a1a1a" >mCh</text>
<line x1="324.00" y1="445.60" x2="330.20" y2="445.60" stroke="#6b7b66" stroke-width="0.8" />
<line x1="380.00" y1="445.60" x2="383.70" y2="445.60" stroke="#6b7b66" stroke-width="0.8" />
<line x1="418.00" y1="445.60" x2="422.60" y2="445.60" stroke="#6b7b66" stroke-width="0.8" />
<line x1="456.20" y1="445.60" x2="465.00" y2="445.60" stroke="#6b7b66" stroke-width="0.8" />
<rect x="330.20" y="441.80" width="49.80" height="7.60" rx="3.80" ry="3.80" fill="#bad8a6" stroke="#6b8a5e" stroke-width="0.8" />
<rect x="383.70" y="441.80" width="34.30" height="7.60" rx="3.80" ry="3.80" fill="#bad8a6" stroke="#6b8a5e" stroke-width="0.8" />
<rect x="422.60" y="441.80" width="33.60" height="7.60" rx="3.80" ry="3.80" fill="#bad8a6" stroke="#6b8a5e" stroke-width="0.8" />
<rect x="465.00" y="441.80" width="30.50" height="7.60" rx="3.80" ry="3.80" fill="#bad8a6" stroke="#6b8a5e" stroke-width="0.8" />
<rect x="332.70" y="442.40" width="5.20" height="6.40" fill="#eeaa3a"/>
<rect x="346.00" y="442.40" width="4.40" height="6.40" fill="#a41d22"/>
<path d="M426.40,442.20 A3.40,3.40 0 0 0 426.40,449.00 L427.30,449.00 L427.30,442.20 Z" fill="#4a7bd0"/>
<rect x="330.20" y="441.80" width="49.80" height="7.6" rx="3.8" ry="3.8" fill="none" stroke="#6b8a5e" stroke-width="0.8"/>
<rect x="422.60" y="441.80" width="33.60" height="7.6" rx="3.8" ry="3.8" fill="none" stroke="#6b8a5e" stroke-width="0.8"/>
<path d="M495.50,445.80 L496.00,445.69 L496.50,445.76 L497.00,446.29 L497.50,446.89 L498.00,447.33 L498.50,447.57 L499.00,447.57 L499.50,447.32 L500.00,446.87 L500.50,446.27 L501.00,445.61 L501.50,444.97 L502.00,444.45 L502.50,444.11 L503.00,444.00 L503.50,444.14 L504.00,444.50 L504.50,445.04 L505.00,445.69 L505.50,446.35 L506.00,446.93 L506.50,447.36 L507.00,447.58 L507.50,447.56 L508.00,447.29 L508.50,446.80 L509.00,446.19 L509.50,445.58 L510.00,445.03 L510.50,444.63 L511.00,444.42 L511.50,444.41 L512.00,444.59 L512.50,444.91 L513.00,445.32 L513.50,445.76" fill="none" stroke="#55654f" stroke-width="1.0" stroke-linecap="round" stroke-linejoin="round" />
<text x="322.50" y="431.80" font-size="8.8" text-anchor="start" font-weight="normal" fill="#1a1a1a" >Δ26-32</text>
<line x1="324.40" y1="433.50" x2="334.60" y2="442.00" stroke="#1a1a1a" stroke-width="0.7" />
<line x1="348.50" y1="433.50" x2="337.90" y2="442.00" stroke="#1a1a1a" stroke-width="0.7" />
<line x1="341.60" y1="472.10" x2="341.60" y2="558.60" stroke="#333" stroke-width="0.9" />
<line x1="341.60" y1="558.60" x2="487.00" y2="558.60" stroke="#333" stroke-width="0.9" />
<line x1="337.00" y1="558.60" x2="341.60" y2="558.60" stroke="#333" stroke-width="0.8" />
<text x="335.00" y="561.70" font-size="8.8" text-anchor="end" font-weight="normal" fill="#1a1a1a" >0</text>
<line x1="337.00" y1="529.77" x2="341.60" y2="529.77" stroke="#333" stroke-width="0.8" />
<text x="335.00" y="532.87" font-size="8.8" text-anchor="end" font-weight="normal" fill="#1a1a1a" >20</text>
<line x1="337.00" y1="500.93" x2="341.60" y2="500.93" stroke="#333" stroke-width="0.8" />
<text x="335.00" y="504.03" font-size="8.8" text-anchor="end" font-weight="normal" fill="#1a1a1a" >40</text>
<line x1="337.00" y1="472.10" x2="341.60" y2="472.10" stroke="#333" stroke-width="0.8" />
<text x="335.00" y="475.20" font-size="8.8" text-anchor="end" font-weight="normal" fill="#1a1a1a" >60</text>
<line x1="341.60" y1="558.60" x2="341.60" y2="561.10" stroke="#333" stroke-width="0.8" />
<text x="341.60" y="568.90" font-size="8.8" text-anchor="middle" font-weight="normal" fill="#1a1a1a" >1.0</text>
<line x1="414.30" y1="558.60" x2="414.30" y2="561.10" stroke="#333" stroke-width="0.8" />
<text x="414.30" y="568.90" font-size="8.8" text-anchor="middle" font-weight="normal" fill="#1a1a1a" >1.5</text>
<line x1="487.00" y1="558.60" x2="487.00" y2="561.10" stroke="#333" stroke-width="0.8" />
<text x="487.00" y="568.90" font-size="8.8" text-anchor="middle" font-weight="normal" fill="#1a1a1a" >2.0</text>
<text x="398.80" y="579.50" font-size="8.8" text-anchor="middle" font-weight="normal" fill="#1a1a1a" >Volume (ml)</text>
<text transform="translate(307.30,518.00) rotate(-90)" font-size="10.3" text-anchor="middle" fill="#1a1a1a">Absorbance</text>
<text transform="translate(317.50,518.00) rotate(-90)" font-size="10.3" text-anchor="middle" fill="#1a1a1a">280 nm (mAU)</text>
<text x="343.00" y="468.90" font-size="8.85" text-anchor="start" font-weight="normal" fill="#1a1a1a" >Superdex 200 5/150</text>
<path d="M341.40,558.40 C341.87,557.83 343.10,558.40 344.20,555.00 C345.30,551.60 346.73,544.17 348.00,538.00 C349.27,531.83 350.63,523.33 351.80,518.00 C352.97,512.67 353.97,509.58 355.00,506.00 C356.03,502.42 357.00,499.67 358.00,496.50 C359.00,493.33 360.10,489.25 361.00,487.00 C361.90,484.75 362.57,483.17 363.40,483.00 C364.23,482.83 365.10,484.25 366.00,486.00 C366.90,487.75 367.72,489.83 368.80,493.50 C369.88,497.17 371.22,502.88 372.50,508.00 C373.78,513.12 375.33,520.45 376.50,524.20 C377.67,527.95 378.48,529.00 379.50,530.50 C380.52,532.00 381.02,532.78 382.60,533.20 C384.18,533.62 386.93,533.20 389.00,533.00 C391.07,532.80 393.33,532.58 395.00,532.00 C396.67,531.42 397.73,530.80 399.00,529.50 C400.27,528.20 401.27,526.28 402.60,524.20 C403.93,522.12 405.68,519.03 407.00,517.00 C408.32,514.97 409.50,512.97 410.50,512.00 C411.50,511.03 412.08,511.03 413.00,511.20 C413.92,511.37 415.17,512.23 416.00,513.00 C416.83,513.77 416.92,513.77 418.00,515.80 C419.08,517.83 420.83,521.67 422.50,525.20 C424.17,528.73 425.98,533.53 428.00,537.00 C430.02,540.47 431.77,543.58 434.60,546.00 C437.43,548.42 440.77,550.00 445.00,551.50 C449.23,553.00 453.00,554.00 460.00,555.00 C467.00,556.00 482.50,557.08 487.00,557.50" fill="none" stroke="#22228c" stroke-width="1.3" stroke-linejoin="round" />
<path d="M341.40,558.40 C341.87,557.83 342.93,557.07 344.20,555.00 C345.47,552.93 347.20,549.08 349.00,546.00 C350.80,542.92 353.50,540.00 355.00,536.50 C356.50,533.00 357.00,529.35 358.00,525.00 C359.00,520.65 360.00,514.73 361.00,510.40 C362.00,506.07 363.08,501.82 364.00,499.00 C364.92,496.18 365.58,493.33 366.50,493.50 C367.42,493.67 368.35,496.92 369.50,500.00 C370.65,503.08 372.23,507.67 373.40,512.00 C374.57,516.33 375.48,521.92 376.50,526.00 C377.52,530.08 378.42,534.00 379.50,536.50 C380.58,539.00 381.72,539.83 383.00,541.00 C384.28,542.17 385.53,542.67 387.20,543.50 C388.87,544.33 390.95,545.12 393.00,546.00 C395.05,546.88 397.00,547.83 399.50,548.80 C402.00,549.77 405.03,550.83 408.00,551.80 C410.97,552.77 412.80,553.82 417.30,554.60 C421.80,555.38 429.22,555.98 435.00,556.50 C440.78,557.02 443.33,557.40 452.00,557.70 C460.67,558.00 481.17,558.20 487.00,558.30" fill="none" stroke="#22228c" stroke-width="1.3" stroke-linejoin="round" stroke-dasharray="3.2,2"/>
<path d="M341.40,558.50 C344.50,558.33 353.57,557.83 360.00,557.50 C366.43,557.17 375.33,556.78 380.00,556.50 C384.67,556.22 385.50,555.85 388.00,555.80 C390.50,555.75 392.83,556.33 395.00,556.20 C397.17,556.07 399.33,556.87 401.00,555.00 C402.67,553.13 403.70,549.87 405.00,545.00 C406.30,540.13 407.63,531.97 408.80,525.80 C409.97,519.63 410.97,512.63 412.00,508.00 C413.03,503.37 414.17,499.90 415.00,498.00 C415.83,496.10 416.25,496.43 417.00,496.60 C417.75,496.77 418.67,497.43 419.50,499.00 C420.33,500.57 420.92,502.50 422.00,506.00 C423.08,509.50 424.67,515.33 426.00,520.00 C427.33,524.67 428.57,529.97 430.00,534.00 C431.43,538.03 432.60,541.62 434.60,544.20 C436.60,546.78 439.10,548.05 442.00,549.50 C444.90,550.95 447.33,551.82 452.00,552.90 C456.67,553.98 464.17,555.20 470.00,556.00 C475.83,556.80 484.17,557.42 487.00,557.70" fill="none" stroke="#8e5e2e" stroke-width="1.3" stroke-linejoin="round" />
<line x1="426.80" y1="478.80" x2="439.60" y2="478.80" stroke="#22228c" stroke-width="1.6" stroke-dasharray="3,1.8"/>
<text x="441.50" y="482.00" text-anchor="start" fill="#1a1a1a"><tspan font-size="5.2" dy="-3.0" font-style="italic">mCh</tspan><tspan font-size="8.8" dy="3.0">Spindly</tspan><tspan font-size="4.8" dy="-3.2">Δ26-32</tspan></text>
<line x1="426.80" y1="487.50" x2="439.60" y2="487.50" stroke="#8e5e2e" stroke-width="1.6" />
<text x="441.50" y="490.70" font-size="8.8" text-anchor="start" font-weight="normal" fill="#1a1a1a" >PE</text>
<line x1="426.80" y1="496.50" x2="439.60" y2="496.50" stroke="#22228c" stroke-width="1.6" />
<text x="441.50" y="500.00" text-anchor="start" fill="#1a1a1a"><tspan font-size="5.2" dy="-3.0" font-style="italic">mCh</tspan><tspan font-size="8.8" dy="3.0">Spindly</tspan><tspan font-size="4.8" dy="-3.2">Δ26-32</tspan><tspan font-size="8.8" dy="3.2"> + PE</tspan></text>
<rect x="64.60" y="111.00" width="117.70" height="51.30" fill="url(#g1)"/>
<rect x="66.80" y="114.40" width="5.60" height="1.60" fill="#141414" fill-opacity="0.383" filter="url(#b1)"/>
<rect x="66.80" y="124.60" width="5.60" height="1.60" fill="#141414" fill-opacity="0.383" filter="url(#b1)"/>
<rect x="66.80" y="133.60" width="5.60" height="1.60" fill="#141414" fill-opacity="0.255" filter="url(#b1)"/>
<rect x="66.80" y="147.60" width="5.60" height="1.60" fill="#141414" fill-opacity="0.425" filter="url(#b1)"/>
<rect x="66.80" y="159.20" width="5.60" height="1.60" fill="#141414" fill-opacity="0.255" filter="url(#b1)"/>
<rect x="119.97" y="122.67" width="5.90" height="1.66" rx="0.8" fill="#141414" fill-opacity="0.059" filter="url(#b1)"/>
<rect x="127.69" y="122.65" width="5.90" height="1.70" rx="0.8" fill="#141414" fill-opacity="0.098" filter="url(#b1)"/>
<rect x="135.41" y="122.58" width="5.90" height="1.85" rx="0.8" fill="#141414" fill-opacity="0.233" filter="url(#b1)"/>
<rect x="143.13" y="122.50" width="5.90" height="1.99" rx="0.8" fill="#141414" fill-opacity="0.387" filter="url(#b1)"/>
<rect x="150.85" y="122.46" width="5.90" height="2.09" rx="0.8" fill="#141414" fill-opacity="0.497" filter="url(#b1)"/>
<rect x="158.57" y="122.46" width="5.90" height="2.09" rx="0.8" fill="#141414" fill-opacity="0.497" filter="url(#b1)"/>
<rect x="166.29" y="122.50" width="5.90" height="1.99" rx="0.8" fill="#141414" fill-opacity="0.387" filter="url(#b1)"/>
<rect x="174.01" y="122.58" width="5.90" height="1.85" rx="0.8" fill="#141414" fill-opacity="0.233" filter="url(#b1)"/>
<rect x="119.97" y="129.76" width="5.90" height="1.68" rx="0.8" fill="#141414" fill-opacity="0.074" filter="url(#b1)"/>
<rect x="127.69" y="129.75" width="5.90" height="1.70" rx="0.8" fill="#141414" fill-opacity="0.098" filter="url(#b1)"/>
<rect x="135.41" y="129.65" width="5.90" height="1.90" rx="0.8" fill="#141414" fill-opacity="0.283" filter="url(#b1)"/>
<rect x="143.13" y="129.60" width="5.90" height="1.99" rx="0.8" fill="#141414" fill-opacity="0.387" filter="url(#b1)"/>
<rect x="150.85" y="129.56" width="5.90" height="2.09" rx="0.8" fill="#141414" fill-opacity="0.497" filter="url(#b1)"/>
<rect x="158.57" y="129.56" width="5.90" height="2.09" rx="0.8" fill="#141414" fill-opacity="0.497" filter="url(#b1)"/>
<rect x="166.29" y="129.60" width="5.90" height="1.99" rx="0.8" fill="#141414" fill-opacity="0.387" filter="url(#b1)"/>
<rect x="174.01" y="129.68" width="5.90" height="1.85" rx="0.8" fill="#141414" fill-opacity="0.233" filter="url(#b1)"/>
<rect x="127.69" y="152.82" width="5.90" height="1.36" rx="0.8" fill="#141414" fill-opacity="0.045" filter="url(#b1)"/>
<rect x="135.41" y="152.81" width="5.90" height="1.38" rx="0.8" fill="#141414" fill-opacity="0.059" filter="url(#b1)"/>
<rect x="143.13" y="152.81" width="5.90" height="1.38" rx="0.8" fill="#141414" fill-opacity="0.059" filter="url(#b1)"/>
<rect x="150.85" y="152.81" width="5.90" height="1.38" rx="0.8" fill="#141414" fill-opacity="0.059" filter="url(#b1)"/>
<rect x="158.57" y="152.81" width="5.90" height="1.38" rx="0.8" fill="#141414" fill-opacity="0.059" filter="url(#b1)"/>
<rect x="166.29" y="152.82" width="5.90" height="1.36" rx="0.8" fill="#141414" fill-opacity="0.045" filter="url(#b1)"/>
<rect x="174.01" y="152.83" width="5.90" height="1.35" rx="0.8" fill="#141414" fill-opacity="0.031" filter="url(#b1)"/>
<rect x="127.69" y="156.72" width="5.90" height="1.36" rx="0.8" fill="#141414" fill-opacity="0.045" filter="url(#b1)"/>
<rect x="135.41" y="156.71" width="5.90" height="1.38" rx="0.8" fill="#141414" fill-opacity="0.059" filter="url(#b1)"/>
<rect x="143.13" y="156.71" width="5.90" height="1.38" rx="0.8" fill="#141414" fill-opacity="0.059" filter="url(#b1)"/>
<rect x="150.85" y="156.71" width="5.90" height="1.38" rx="0.8" fill="#141414" fill-opacity="0.059" filter="url(#b1)"/>
<rect x="158.57" y="156.71" width="5.90" height="1.38" rx="0.8" fill="#141414" fill-opacity="0.059" filter="url(#b1)"/>
<rect x="166.29" y="156.72" width="5.90" height="1.36" rx="0.8" fill="#141414" fill-opacity="0.045" filter="url(#b1)"/>
<rect x="174.01" y="156.73" width="5.90" height="1.35" rx="0.8" fill="#141414" fill-opacity="0.031" filter="url(#b1)"/>
<rect x="64.60" y="111.00" width="117.70" height="51.30" fill="none" stroke="#8d7548" stroke-width="1.2" />
<line x1="60.00" y1="114.80" x2="64.10" y2="114.80" stroke="#1a1a1a" stroke-width="0.9" />
<text x="59.30" y="116.55" font-size="8.8" text-anchor="end" font-weight="normal" fill="#1a1a1a" >75</text>
<line x1="60.00" y1="125.30" x2="64.10" y2="125.30" stroke="#1a1a1a" stroke-width="0.9" />
<text x="59.30" y="126.75" font-size="8.8" text-anchor="end" font-weight="normal" fill="#1a1a1a" >50</text>
<line x1="60.00" y1="134.50" x2="64.10" y2="134.50" stroke="#1a1a1a" stroke-width="0.9" />
<text x="59.30" y="136.45" font-size="8.8" text-anchor="end" font-weight="normal" fill="#1a1a1a" >37</text>
<line x1="60.00" y1="148.20" x2="64.10" y2="148.20" stroke="#1a1a1a" stroke-width="0.9" />
<text x="59.30" y="151.75" font-size="8.8" text-anchor="end" font-weight="normal" fill="#1a1a1a" >25</text>
<line x1="60.00" y1="160.80" x2="64.10" y2="160.80" stroke="#1a1a1a" stroke-width="0.9" />
<text x="59.30" y="163.95" font-size="8.8" text-anchor="end" font-weight="normal" fill="#1a1a1a" >20</text>
<polyline points="182.60,124.20 186.50,124.20" fill="none" stroke="#1a1a1a" stroke-width="1.0" />
<text x="188.20" y="127.20" text-anchor="start" fill="#1a1a1a"><tspan font-size="8.8" dy="0">p62</tspan></text>
<polyline points="182.60,131.20 186.50,131.20" fill="none" stroke="#1a1a1a" stroke-width="1.0" />
<text x="188.20" y="134.60" text-anchor="start" fill="#1a1a1a"><tspan font-size="8.8" dy="0">Arp11</tspan></text>
<polyline points="182.60,154.60 186.50,154.60" fill="none" stroke="#1a1a1a" stroke-width="1.0" />
<text x="188.20" y="155.60" text-anchor="start" fill="#1a1a1a"><tspan font-size="8.8" dy="0">p27</tspan></text>
<polyline points="182.60,157.40 184.40,157.80 185.40,160.60 187.00,160.60" fill="none" stroke="#1a1a1a" stroke-width="1.0" />
<text x="188.20" y="163.80" text-anchor="start" fill="#1a1a1a"><tspan font-size="8.8" dy="0">p25</tspan></text>
<rect x="64.80" y="199.00" width="117.20" height="35.80" fill="url(#g2)"/>
<rect x="66.80" y="198.70" width="5.60" height="1.60" fill="#141414" fill-opacity="0.255" filter="url(#b1)"/>
<rect x="66.80" y="207.60" width="5.60" height="1.60" fill="#141414" fill-opacity="0.510" filter="url(#b1)"/>
<rect x="66.80" y="216.60" width="5.60" height="1.60" fill="#141414" fill-opacity="0.212" filter="url(#b1)"/>
<rect x="66.80" y="230.60" width="5.60" height="1.60" fill="#141414" fill-opacity="0.425" filter="url(#b1)"/>
<rect x="73.65" y="204.89" width="5.90" height="2.21" rx="0.8" fill="#141414" fill-opacity="0.283" filter="url(#b1)"/>
<rect x="81.37" y="204.89" width="5.90" height="2.21" rx="0.8" fill="#141414" fill-opacity="0.283" filter="url(#b1)"/>
<rect x="89.09" y="204.95" width="5.90" height="2.10" rx="0.8" fill="#141414" fill-opacity="0.186" filter="url(#b1)"/>
<rect x="96.81" y="204.92" width="5.90" height="2.16" rx="0.8" fill="#141414" fill-opacity="0.233" filter="url(#b1)"/>
<rect x="104.53" y="204.92" width="5.90" height="2.16" rx="0.8" fill="#141414" fill-opacity="0.233" filter="url(#b1)"/>
<rect x="112.25" y="204.78" width="5.90" height="2.44" rx="0.8" fill="#141414" fill-opacity="0.497" filter="url(#b1)"/>
<rect x="119.97" y="204.59" width="5.90" height="2.83" rx="0.8" fill="#141414" fill-opacity="0.920" filter="url(#b1)"/>
<rect x="127.69" y="204.56" width="5.90" height="2.88" rx="0.8" fill="#141414" fill-opacity="0.985" filter="url(#b1)"/>
<rect x="135.41" y="204.56" width="5.90" height="2.88" rx="0.8" fill="#141414" fill-opacity="0.985" filter="url(#b1)"/>
<rect x="143.13" y="204.67" width="5.90" height="2.66" rx="0.8" fill="#141414" fill-opacity="0.733" filter="url(#b1)"/>
<rect x="150.85" y="204.84" width="5.90" height="2.32" rx="0.8" fill="#141414" fill-opacity="0.387" filter="url(#b1)"/>
<rect x="158.57" y="204.92" width="5.90" height="2.16" rx="0.8" fill="#141414" fill-opacity="0.233" filter="url(#b1)"/>
<rect x="166.29" y="204.98" width="5.90" height="2.04" rx="0.8" fill="#141414" fill-opacity="0.140" filter="url(#b1)"/>
<rect x="174.01" y="205.01" width="5.90" height="1.99" rx="0.8" fill="#141414" fill-opacity="0.098" filter="url(#b1)"/>
<rect x="64.80" y="199.00" width="117.20" height="35.80" fill="none" stroke="#5b57aa" stroke-width="1.3" stroke-dasharray="3.8,2.1"/>
<line x1="60.20" y1="200.00" x2="64.30" y2="200.00" stroke="#1a1a1a" stroke-width="0.9" />
<text x="59.50" y="202.75" font-size="8.8" text-anchor="end" font-weight="normal" fill="#1a1a1a" >75</text>
<line x1="60.20" y1="208.50" x2="64.30" y2="208.50" stroke="#1a1a1a" stroke-width="0.9" />
<text x="59.50" y="211.65" font-size="8.8" text-anchor="end" font-weight="normal" fill="#1a1a1a" >50</text>
<line x1="60.20" y1="218.00" x2="64.30" y2="218.00" stroke="#1a1a1a" stroke-width="0.9" />
<text x="59.50" y="221.15" font-size="8.8" text-anchor="end" font-weight="normal" fill="#1a1a1a" >37</text>
<line x1="60.20" y1="232.00" x2="64.30" y2="232.00" stroke="#1a1a1a" stroke-width="0.9" />
<text x="59.50" y="235.15" font-size="8.8" text-anchor="end" font-weight="normal" fill="#1a1a1a" >25</text>
<polyline points="182.60,206.00 186.50,206.00" fill="none" stroke="#1a1a1a" stroke-width="1.0" />
<text x="188.40" y="208.80" text-anchor="start" fill="#1a1a1a"><tspan font-size="8.8" dy="0">Spindly</tspan><tspan font-size="5.0" dy="-3.2">1-440</tspan></text>
<rect x="65.00" y="246.00" width="117.00" height="48.20" fill="url(#g3)"/>
<rect x="66.80" y="247.20" width="5.60" height="1.60" fill="#141414" fill-opacity="0.255" filter="url(#b1)"/>
<rect x="66.80" y="255.70" width="5.60" height="1.60" fill="#141414" fill-opacity="0.468" filter="url(#b1)"/>
<rect x="66.80" y="265.10" width="5.60" height="1.60" fill="#141414" fill-opacity="0.297" filter="url(#b1)"/>
<rect x="66.80" y="280.40" width="5.60" height="1.60" fill="#141414" fill-opacity="0.425" filter="url(#b1)"/>
<rect x="66.80" y="293.20" width="5.60" height="1.60" fill="#141414" fill-opacity="0.212" filter="url(#b1)"/>
<rect x="73.65" y="253.24" width="5.90" height="2.32" rx="0.8" fill="#141414" fill-opacity="0.387" filter="url(#b1)"/>
<rect x="81.37" y="253.27" width="5.90" height="2.27" rx="0.8" fill="#141414" fill-opacity="0.334" filter="url(#b1)"/>
<rect x="89.09" y="253.27" width="5.90" height="2.27" rx="0.8" fill="#141414" fill-opacity="0.334" filter="url(#b1)"/>
<rect x="96.81" y="253.27" width="5.90" height="2.27" rx="0.8" fill="#141414" fill-opacity="0.334" filter="url(#b1)"/>
<rect x="104.53" y="253.24" width="5.90" height="2.32" rx="0.8" fill="#141414" fill-opacity="0.387" filter="url(#b1)"/>
<rect x="112.25" y="253.10" width="5.90" height="2.60" rx="0.8" fill="#141414" fill-opacity="0.672" filter="url(#b1)"/>
<rect x="119.97" y="252.99" width="5.90" height="2.83" rx="0.8" fill="#141414" fill-opacity="0.920" filter="url(#b1)"/>
<rect x="127.69" y="252.96" width="5.90" height="2.88" rx="0.8" fill="#141414" fill-opacity="0.985" filter="url(#b1)"/>
<rect x="135.41" y="252.99" width="5.90" height="2.83" rx="0.8" fill="#141414" fill-opacity="0.920" filter="url(#b1)"/>
<rect x="143.13" y="253.07" width="5.90" height="2.66" rx="0.8" fill="#141414" fill-opacity="0.733" filter="url(#b1)"/>
<rect x="150.85" y="253.10" width="5.90" height="2.60" rx="0.8" fill="#141414" fill-opacity="0.672" filter="url(#b1)"/>
<rect x="158.57" y="253.13" width="5.90" height="2.55" rx="0.8" fill="#141414" fill-opacity="0.613" filter="url(#b1)"/>
<rect x="166.29" y="253.15" width="5.90" height="2.49" rx="0.8" fill="#141414" fill-opacity="0.554" filter="url(#b1)"/>
<rect x="174.01" y="253.21" width="5.90" height="2.38" rx="0.8" fill="#141414" fill-opacity="0.441" filter="url(#b1)"/>
<rect x="135.41" y="250.91" width="5.90" height="1.39" rx="0.8" fill="#141414" fill-opacity="0.233" filter="url(#b1)"/>
<rect x="143.13" y="250.91" width="5.90" height="1.39" rx="0.8" fill="#141414" fill-opacity="0.233" filter="url(#b1)"/>
<rect x="150.85" y="250.89" width="5.90" height="1.42" rx="0.8" fill="#141414" fill-opacity="0.283" filter="url(#b1)"/>
<rect x="158.57" y="250.89" width="5.90" height="1.42" rx="0.8" fill="#141414" fill-opacity="0.283" filter="url(#b1)"/>
<rect x="166.29" y="250.91" width="5.90" height="1.39" rx="0.8" fill="#141414" fill-opacity="0.233" filter="url(#b1)"/>
<rect x="174.01" y="250.92" width="5.90" height="1.35" rx="0.8" fill="#141414" fill-opacity="0.186" filter="url(#b1)"/>
<rect x="119.97" y="259.24" width="5.90" height="1.52" rx="0.8" fill="#141414" fill-opacity="0.059" filter="url(#b1)"/>
<rect x="127.69" y="259.13" width="5.90" height="1.74" rx="0.8" fill="#141414" fill-opacity="0.283" filter="url(#b1)"/>
<rect x="135.41" y="259.11" width="5.90" height="1.78" rx="0.8" fill="#141414" fill-opacity="0.334" filter="url(#b1)"/>
<rect x="143.13" y="259.06" width="5.90" height="1.87" rx="0.8" fill="#141414" fill-opacity="0.441" filter="url(#b1)"/>
<rect x="150.85" y="259.04" width="5.90" height="1.91" rx="0.8" fill="#141414" fill-opacity="0.497" filter="url(#b1)"/>
<rect x="158.57" y="259.04" width="5.90" height="1.91" rx="0.8" fill="#141414" fill-opacity="0.497" filter="url(#b1)"/>
<rect x="166.29" y="259.09" width="5.90" height="1.83" rx="0.8" fill="#141414" fill-opacity="0.387" filter="url(#b1)"/>
<rect x="174.01" y="259.11" width="5.90" height="1.78" rx="0.8" fill="#141414" fill-opacity="0.334" filter="url(#b1)"/>
<rect x="119.97" y="284.15" width="5.90" height="2.70" rx="0.8" fill="#141414" fill-opacity="0.031" filter="url(#b2)"/>
<rect x="127.69" y="284.14" width="5.90" height="2.73" rx="0.8" fill="#141414" fill-opacity="0.045" filter="url(#b2)"/>
<rect x="135.41" y="284.14" width="5.90" height="2.73" rx="0.8" fill="#141414" fill-opacity="0.045" filter="url(#b2)"/>
<rect x="143.13" y="284.14" width="5.90" height="2.73" rx="0.8" fill="#141414" fill-opacity="0.045" filter="url(#b2)"/>
<rect x="150.85" y="284.14" width="5.90" height="2.73" rx="0.8" fill="#141414" fill-opacity="0.045" filter="url(#b2)"/>
<rect x="158.57" y="284.14" width="5.90" height="2.73" rx="0.8" fill="#141414" fill-opacity="0.045" filter="url(#b2)"/>
<rect x="166.29" y="284.15" width="5.90" height="2.70" rx="0.8" fill="#141414" fill-opacity="0.031" filter="url(#b2)"/>
<rect x="174.01" y="284.16" width="5.90" height="2.68" rx="0.8" fill="#141414" fill-opacity="0.025" filter="url(#b2)"/>
<rect x="65.00" y="246.00" width="117.00" height="48.20" fill="none" stroke="#5b57aa" stroke-width="1.3" />
<line x1="60.40" y1="247.90" x2="64.50" y2="247.90" stroke="#1a1a1a" stroke-width="0.9" />
<text x="59.70" y="251.05" font-size="8.8" text-anchor="end" font-weight="normal" fill="#1a1a1a" >75</text>
<line x1="60.40" y1="256.50" x2="64.50" y2="256.50" stroke="#1a1a1a" stroke-width="0.9" />
<text x="59.70" y="259.85" font-size="8.8" text-anchor="end" font-weight="normal" fill="#1a1a1a" >50</text>
<line x1="60.40" y1="265.90" x2="64.50" y2="265.90" stroke="#1a1a1a" stroke-width="0.9" />
<text x="59.70" y="269.05" font-size="8.8" text-anchor="end" font-weight="normal" fill="#1a1a1a" >37</text>
<line x1="60.40" y1="281.60" x2="64.50" y2="281.60" stroke="#1a1a1a" stroke-width="0.9" />
<text x="59.70" y="284.75" font-size="8.8" text-anchor="end" font-weight="normal" fill="#1a1a1a" >25</text>
<line x1="60.40" y1="293.80" x2="64.50" y2="293.80" stroke="#1a1a1a" stroke-width="0.9" />
<text x="59.70" y="296.75" font-size="8.8" text-anchor="end" font-weight="normal" fill="#1a1a1a" >20</text>
<polyline points="182.60,252.20 185.40,252.20 185.40,247.30 187.20,247.30" fill="none" stroke="#1a1a1a" stroke-width="1.0" />
<text x="188.40" y="247.80" text-anchor="start" fill="#1a1a1a"><tspan font-size="8.8" dy="0">p62</tspan></text>
<polyline points="182.60,254.80 186.50,254.80" fill="none" stroke="#1a1a1a" stroke-width="1.0" />
<text x="188.40" y="257.80" text-anchor="start" fill="#1a1a1a"><tspan font-size="8.8" dy="0">Spindly</tspan><tspan font-size="5.0" dy="-3.2">1-440</tspan></text>
<polyline points="182.60,260.20 186.50,260.20" fill="none" stroke="#1a1a1a" stroke-width="1.0" />
<text x="188.40" y="266.00" text-anchor="start" fill="#1a1a1a"><tspan font-size="8.8" dy="0">Arp11</tspan></text>
<polyline points="182.60,287.30 186.50,287.30" fill="none" stroke="#1a1a1a" stroke-width="1.0" />
<text x="188.40" y="288.40" text-anchor="start" fill="#1a1a1a"><tspan font-size="8.8" dy="0">p27</tspan></text>
<polyline points="182.60,290.40 184.40,290.60 185.20,293.60 187.00,293.60" fill="none" stroke="#1a1a1a" stroke-width="1.0" />
<text x="188.40" y="296.40" text-anchor="start" fill="#1a1a1a"><tspan font-size="8.8" dy="0">p25</tspan></text>
<rect x="65.00" y="330.00" width="117.00" height="31.50" fill="url(#g4)"/>
<rect x="66.80" y="330.45" width="5.60" height="1.60" fill="#141414" fill-opacity="0.255" filter="url(#b1)"/>
<rect x="66.80" y="339.70" width="5.60" height="1.60" fill="#141414" fill-opacity="0.468" filter="url(#b1)"/>
<rect x="66.80" y="349.20" width="5.60" height="1.60" fill="#141414" fill-opacity="0.212" filter="url(#b1)"/>
<rect x="66.80" y="359.20" width="5.60" height="1.60" fill="#141414" fill-opacity="0.255" filter="url(#b1)"/>
<rect x="73.65" y="344.31" width="5.90" height="1.77" rx="0.8" fill="#141414" fill-opacity="0.233" filter="url(#b1)"/>
<rect x="81.37" y="344.31" width="5.90" height="1.77" rx="0.8" fill="#141414" fill-opacity="0.233" filter="url(#b1)"/>
<rect x="89.09" y="344.20" width="5.90" height="2.00" rx="0.8" fill="#141414" fill-opacity="0.497" filter="url(#b1)"/>
<rect x="96.81" y="344.18" width="5.90" height="2.05" rx="0.8" fill="#141414" fill-opacity="0.554" filter="url(#b1)"/>
<rect x="104.53" y="344.20" width="5.90" height="2.00" rx="0.8" fill="#141414" fill-opacity="0.497" filter="url(#b1)"/>
<rect x="112.25" y="344.22" width="5.90" height="1.96" rx="0.8" fill="#141414" fill-opacity="0.441" filter="url(#b1)"/>
<rect x="119.97" y="344.25" width="5.90" height="1.91" rx="0.8" fill="#141414" fill-opacity="0.387" filter="url(#b1)"/>
<rect x="127.69" y="344.15" width="5.90" height="2.09" rx="0.8" fill="#141414" fill-opacity="0.613" filter="url(#b1)"/>
<rect x="135.41" y="344.13" width="5.90" height="2.14" rx="0.8" fill="#141414" fill-opacity="0.672" filter="url(#b1)"/>
<rect x="143.13" y="344.18" width="5.90" height="2.05" rx="0.8" fill="#141414" fill-opacity="0.554" filter="url(#b1)"/>
<rect x="150.85" y="344.20" width="5.90" height="2.00" rx="0.8" fill="#141414" fill-opacity="0.497" filter="url(#b1)"/>
<rect x="158.57" y="344.20" width="5.90" height="2.00" rx="0.8" fill="#141414" fill-opacity="0.497" filter="url(#b1)"/>
<rect x="166.29" y="344.22" width="5.90" height="1.96" rx="0.8" fill="#141414" fill-opacity="0.441" filter="url(#b1)"/>
<rect x="174.01" y="344.25" width="5.90" height="1.91" rx="0.8" fill="#141414" fill-opacity="0.387" filter="url(#b1)"/>
<rect x="65.00" y="330.00" width="117.00" height="31.50" fill="none" stroke="#6cb456" stroke-width="1.3" stroke-dasharray="3.8,2.1"/>
<line x1="60.40" y1="330.60" x2="64.50" y2="330.60" stroke="#1a1a1a" stroke-width="0.9" />
<text x="59.70" y="333.15" font-size="8.8" text-anchor="end" font-weight="normal" fill="#1a1a1a" >75</text>
<line x1="60.40" y1="340.90" x2="64.50" y2="340.90" stroke="#1a1a1a" stroke-width="0.9" />
<text x="59.70" y="343.05" font-size="8.8" text-anchor="end" font-weight="normal" fill="#1a1a1a" >50</text>
<line x1="60.40" y1="350.90" x2="64.50" y2="350.90" stroke="#1a1a1a" stroke-width="0.9" />
<text x="59.70" y="352.45" font-size="8.8" text-anchor="end" font-weight="normal" fill="#1a1a1a" >37</text>
<line x1="60.40" y1="360.80" x2="64.50" y2="360.80" stroke="#1a1a1a" stroke-width="0.9" />
<text x="59.70" y="363.55" font-size="8.8" text-anchor="end" font-weight="normal" fill="#1a1a1a" >25</text>
<polyline points="182.60,345.40 186.50,345.40" fill="none" stroke="#1a1a1a" stroke-width="1.0" />
<text x="188.40" y="348.20" text-anchor="start" fill="#1a1a1a"><tspan font-size="8.8" dy="0">Spindly</tspan><tspan font-size="5.0" dy="-3.2">1-354</tspan></text>
<rect x="65.00" y="371.50" width="117.00" height="44.70" fill="url(#g5)"/>
<rect x="66.80" y="372.95" width="5.60" height="1.60" fill="#141414" fill-opacity="0.255" filter="url(#b1)"/>
<rect x="66.80" y="381.20" width="5.60" height="1.60" fill="#141414" fill-opacity="0.425" filter="url(#b1)"/>
<rect x="66.80" y="390.45" width="5.60" height="1.60" fill="#141414" fill-opacity="0.255" filter="url(#b1)"/>
<rect x="66.80" y="402.45" width="5.60" height="1.60" fill="#141414" fill-opacity="0.425" filter="url(#b1)"/>
<rect x="66.80" y="412.20" width="5.60" height="1.60" fill="#141414" fill-opacity="0.212" filter="url(#b1)"/>
<rect x="73.65" y="385.69" width="5.90" height="2.21" rx="0.8" fill="#141414" fill-opacity="0.283" filter="url(#b1)"/>
<rect x="81.37" y="385.64" width="5.90" height="2.32" rx="0.8" fill="#141414" fill-opacity="0.387" filter="url(#b1)"/>
<rect x="89.09" y="385.55" width="5.90" height="2.49" rx="0.8" fill="#141414" fill-opacity="0.554" filter="url(#b1)"/>
<rect x="96.81" y="385.47" width="5.90" height="2.66" rx="0.8" fill="#141414" fill-opacity="0.733" filter="url(#b1)"/>
<rect x="104.53" y="385.47" width="5.90" height="2.66" rx="0.8" fill="#141414" fill-opacity="0.733" filter="url(#b1)"/>
<rect x="112.25" y="385.55" width="5.90" height="2.49" rx="0.8" fill="#141414" fill-opacity="0.554" filter="url(#b1)"/>
<rect x="119.97" y="385.55" width="5.90" height="2.49" rx="0.8" fill="#141414" fill-opacity="0.554" filter="url(#b1)"/>
<rect x="127.69" y="385.44" width="5.90" height="2.72" rx="0.8" fill="#141414" fill-opacity="0.794" filter="url(#b1)"/>
<rect x="135.41" y="385.39" width="5.90" height="2.83" rx="0.8" fill="#141414" fill-opacity="0.920" filter="url(#b1)"/>
<rect x="143.13" y="385.47" width="5.90" height="2.66" rx="0.8" fill="#141414" fill-opacity="0.733" filter="url(#b1)"/>
<rect x="150.85" y="385.55" width="5.90" height="2.49" rx="0.8" fill="#141414" fill-opacity="0.554" filter="url(#b1)"/>
<rect x="158.57" y="385.58" width="5.90" height="2.44" rx="0.8" fill="#141414" fill-opacity="0.497" filter="url(#b1)"/>
<rect x="166.29" y="385.69" width="5.90" height="2.21" rx="0.8" fill="#141414" fill-opacity="0.283" filter="url(#b1)"/>
<rect x="174.01" y="385.72" width="5.90" height="2.16" rx="0.8" fill="#141414" fill-opacity="0.233" filter="url(#b1)"/>
<rect x="127.69" y="377.95" width="5.90" height="1.69" rx="0.8" fill="#141414" fill-opacity="0.233" filter="url(#b1)"/>
<rect x="135.41" y="377.89" width="5.90" height="1.83" rx="0.8" fill="#141414" fill-opacity="0.387" filter="url(#b1)"/>
<rect x="143.13" y="377.87" width="5.90" height="1.87" rx="0.8" fill="#141414" fill-opacity="0.441" filter="url(#b1)"/>
<rect x="150.85" y="377.82" width="5.90" height="1.96" rx="0.8" fill="#141414" fill-opacity="0.554" filter="url(#b1)"/>
<rect x="158.57" y="377.82" width="5.90" height="1.96" rx="0.8" fill="#141414" fill-opacity="0.554" filter="url(#b1)"/>
<rect x="166.29" y="377.93" width="5.90" height="1.74" rx="0.8" fill="#141414" fill-opacity="0.283" filter="url(#b1)"/>
<rect x="174.01" y="377.95" width="5.90" height="1.69" rx="0.8" fill="#141414" fill-opacity="0.233" filter="url(#b1)"/>
<rect x="127.69" y="405.50" width="5.90" height="1.40" rx="0.8" fill="#141414" fill-opacity="0.074" filter="url(#b1)"/>
<rect x="135.41" y="405.50" width="5.90" height="1.40" rx="0.8" fill="#141414" fill-opacity="0.074" filter="url(#b1)"/>
<rect x="143.13" y="405.50" width="5.90" height="1.40" rx="0.8" fill="#141414" fill-opacity="0.074" filter="url(#b1)"/>
<rect x="150.85" y="405.51" width="5.90" height="1.38" rx="0.8" fill="#141414" fill-opacity="0.059" filter="url(#b1)"/>
<rect x="158.57" y="405.52" width="5.90" height="1.36" rx="0.8" fill="#141414" fill-opacity="0.045" filter="url(#b1)"/>
<rect x="127.69" y="409.30" width="5.90" height="1.40" rx="0.8" fill="#141414" fill-opacity="0.074" filter="url(#b1)"/>
<rect x="135.41" y="409.30" width="5.90" height="1.40" rx="0.8" fill="#141414" fill-opacity="0.074" filter="url(#b1)"/>
<rect x="143.13" y="409.30" width="5.90" height="1.40" rx="0.8" fill="#141414" fill-opacity="0.074" filter="url(#b1)"/>
<rect x="150.85" y="409.31" width="5.90" height="1.38" rx="0.8" fill="#141414" fill-opacity="0.059" filter="url(#b1)"/>
<rect x="158.57" y="409.32" width="5.90" height="1.36" rx="0.8" fill="#141414" fill-opacity="0.045" filter="url(#b1)"/>
<rect x="65.00" y="371.50" width="117.00" height="44.70" fill="none" stroke="#6cb456" stroke-width="1.3" />
<line x1="60.40" y1="372.00" x2="64.50" y2="372.00" stroke="#1a1a1a" stroke-width="0.9" />
<text x="59.70" y="373.95" font-size="8.8" text-anchor="end" font-weight="normal" fill="#1a1a1a" >75</text>
<line x1="60.40" y1="382.50" x2="64.50" y2="382.50" stroke="#1a1a1a" stroke-width="0.9" />
<text x="59.70" y="384.35" font-size="8.8" text-anchor="end" font-weight="normal" fill="#1a1a1a" >50</text>
<line x1="60.40" y1="391.90" x2="64.50" y2="391.90" stroke="#1a1a1a" stroke-width="0.9" />
<text x="59.70" y="393.85" font-size="8.8" text-anchor="end" font-weight="normal" fill="#1a1a1a" >37</text>
<line x1="60.40" y1="402.70" x2="64.50" y2="402.70" stroke="#1a1a1a" stroke-width="0.9" />
<text x="59.70" y="404.65" font-size="8.8" text-anchor="end" font-weight="normal" fill="#1a1a1a" >25</text>
<line x1="60.40" y1="416.80" x2="64.50" y2="416.80" stroke="#1a1a1a" stroke-width="0.9" />
<text x="59.70" y="420.85" font-size="8.8" text-anchor="end" font-weight="normal" fill="#1a1a1a" >20</text>
<polyline points="182.60,380.00 186.50,380.00" fill="none" stroke="#1a1a1a" stroke-width="1.0" />
<text x="188.40" y="381.60" text-anchor="start" fill="#1a1a1a"><tspan font-size="8.8" dy="0">p62</tspan></text>
<polyline points="182.60,386.00 186.50,386.00" fill="none" stroke="#1a1a1a" stroke-width="1.0" />
<text x="188.40" y="390.00" text-anchor="start" fill="#1a1a1a"><tspan font-size="8.8" dy="0">Arp11</tspan></text>
<polyline points="182.60,387.60 184.40,387.80 185.20,392.40 187.00,392.40" fill="none" stroke="#1a1a1a" stroke-width="1.0" />
<text x="188.40" y="397.60" text-anchor="start" fill="#1a1a1a"><tspan font-size="8.8" dy="0">Spindly</tspan><tspan font-size="5.0" dy="-3.2">1-354</tspan></text>
<polyline points="182.60,407.60 186.50,407.60" fill="none" stroke="#1a1a1a" stroke-width="1.0" />
<text x="188.40" y="408.80" text-anchor="start" fill="#1a1a1a"><tspan font-size="8.8" dy="0">p27</tspan></text>
<polyline points="182.60,410.40 184.40,410.60 185.20,413.60 187.00,413.60" fill="none" stroke="#1a1a1a" stroke-width="1.0" />
<text x="188.40" y="417.60" text-anchor="start" fill="#1a1a1a"><tspan font-size="8.8" dy="0">p25</tspan></text>
<rect x="63.00" y="585.30" width="117.50" height="38.50" fill="url(#g6)"/>
<rect x="64.50" y="590.90" width="6.20" height="2.20" fill="#141414" fill-opacity="0.765" filter="url(#b1)"/>
<rect x="64.50" y="599.40" width="6.20" height="2.20" fill="#141414" fill-opacity="0.297" filter="url(#b1)"/>
<rect x="64.50" y="607.50" width="6.20" height="2.20" fill="#141414" fill-opacity="0.765" filter="url(#b1)"/>
<rect x="64.50" y="614.70" width="6.20" height="2.20" fill="#141414" fill-opacity="0.297" filter="url(#b1)"/>
<rect x="140.75" y="588.93" width="5.90" height="2.13" rx="0.8" fill="#141414" fill-opacity="0.098" filter="url(#b1)"/>
<rect x="148.30" y="588.70" width="5.90" height="2.61" rx="0.8" fill="#141414" fill-opacity="0.497" filter="url(#b1)"/>
<rect x="155.80" y="588.49" width="5.90" height="3.03" rx="0.8" fill="#141414" fill-opacity="0.920" filter="url(#b1)"/>
<rect x="163.30" y="588.49" width="5.90" height="3.03" rx="0.8" fill="#141414" fill-opacity="0.920" filter="url(#b1)"/>
<rect x="170.80" y="588.58" width="5.90" height="2.85" rx="0.8" fill="#141414" fill-opacity="0.733" filter="url(#b1)"/>
<rect x="140.75" y="595.33" width="5.90" height="1.93" rx="0.8" fill="#141414" fill-opacity="0.059" filter="url(#b1)"/>
<rect x="148.30" y="595.11" width="5.90" height="2.38" rx="0.8" fill="#141414" fill-opacity="0.441" filter="url(#b1)"/>
<rect x="155.80" y="594.91" width="5.90" height="2.77" rx="0.8" fill="#141414" fill-opacity="0.857" filter="url(#b1)"/>
<rect x="163.30" y="594.91" width="5.90" height="2.77" rx="0.8" fill="#141414" fill-opacity="0.857" filter="url(#b1)"/>
<rect x="170.80" y="594.97" width="5.90" height="2.66" rx="0.8" fill="#141414" fill-opacity="0.733" filter="url(#b1)"/>
<rect x="148.30" y="611.05" width="5.90" height="1.50" rx="0.8" fill="#141414" fill-opacity="0.283" filter="url(#b1)"/>
<rect x="155.80" y="611.01" width="5.90" height="1.58" rx="0.8" fill="#141414" fill-opacity="0.387" filter="url(#b1)"/>
<rect x="163.30" y="611.01" width="5.90" height="1.58" rx="0.8" fill="#141414" fill-opacity="0.387" filter="url(#b1)"/>
<rect x="170.80" y="611.03" width="5.90" height="1.54" rx="0.8" fill="#141414" fill-opacity="0.334" filter="url(#b1)"/>
<rect x="148.30" y="614.67" width="5.90" height="1.66" rx="0.8" fill="#141414" fill-opacity="0.387" filter="url(#b1)"/>
<rect x="155.80" y="614.63" width="5.90" height="1.74" rx="0.8" fill="#141414" fill-opacity="0.497" filter="url(#b1)"/>
<rect x="163.30" y="614.65" width="5.90" height="1.70" rx="0.8" fill="#141414" fill-opacity="0.441" filter="url(#b1)"/>
<rect x="170.80" y="614.67" width="5.90" height="1.66" rx="0.8" fill="#141414" fill-opacity="0.387" filter="url(#b1)"/>
<rect x="63.00" y="585.30" width="117.50" height="38.50" fill="none" stroke="#8d7548" stroke-width="1.3" />
<line x1="58.40" y1="592.50" x2="62.50" y2="592.50" stroke="#1a1a1a" stroke-width="0.9" />
<text x="57.70" y="594.55" font-size="8.8" text-anchor="end" font-weight="normal" fill="#1a1a1a" >75</text>
<line x1="58.40" y1="600.90" x2="62.50" y2="600.90" stroke="#1a1a1a" stroke-width="0.9" />
<text x="57.70" y="602.35" font-size="8.8" text-anchor="end" font-weight="normal" fill="#1a1a1a" >50</text>
<line x1="58.40" y1="607.60" x2="62.50" y2="607.60" stroke="#1a1a1a" stroke-width="0.9" />
<text x="57.70" y="610.45" font-size="8.8" text-anchor="end" font-weight="normal" fill="#1a1a1a" >37</text>
<line x1="58.40" y1="616.20" x2="62.50" y2="616.20" stroke="#1a1a1a" stroke-width="0.9" />
<text x="57.70" y="618.45" font-size="8.8" text-anchor="end" font-weight="normal" fill="#1a1a1a" >25</text>
<polyline points="180.90,589.60 185.50,589.60" fill="none" stroke="#1a1a1a" stroke-width="1.0" />
<text x="187.20" y="591.60" text-anchor="start" fill="#1a1a1a"><tspan font-size="8.8" dy="0">p62</tspan></text>
<polyline points="180.90,596.50 185.50,596.50" fill="none" stroke="#1a1a1a" stroke-width="1.0" />
<text x="187.20" y="599.60" text-anchor="start" fill="#1a1a1a"><tspan font-size="8.8" dy="0">Arp11</tspan></text>
<polyline points="180.90,611.60 185.50,611.60" fill="none" stroke="#1a1a1a" stroke-width="1.0" />
<text x="187.20" y="611.80" text-anchor="start" fill="#1a1a1a"><tspan font-size="8.8" dy="0">p27</tspan></text>
<polyline points="180.90,614.80 185.50,614.80" fill="none" stroke="#1a1a1a" stroke-width="1.0" />
<text x="187.20" y="619.60" text-anchor="start" fill="#1a1a1a"><tspan font-size="8.8" dy="0">p25</tspan></text>
<rect x="63.00" y="651.80" width="117.50" height="32.60" fill="url(#g7)"/>
<rect x="64.50" y="656.50" width="6.20" height="2.00" fill="#141414" fill-opacity="0.425" filter="url(#b1)"/>
<rect x="64.50" y="665.25" width="6.20" height="2.00" fill="#141414" fill-opacity="0.425" filter="url(#b1)"/>
<rect x="64.50" y="672.25" width="6.20" height="2.00" fill="#141414" fill-opacity="0.255" filter="url(#b1)"/>
<rect x="64.50" y="680.25" width="6.20" height="2.00" fill="#141414" fill-opacity="0.383" filter="url(#b1)"/>
<rect x="85.80" y="656.00" width="6.40" height="14.00" fill="url(#g8)" fill-opacity="0.080" filter="url(#b2)"/>
<rect x="93.40" y="656.00" width="6.40" height="14.00" fill="url(#g8)" fill-opacity="0.224" filter="url(#b2)"/>
<rect x="101.00" y="656.00" width="6.40" height="14.00" fill="url(#g8)" fill-opacity="0.256" filter="url(#b2)"/>
<rect x="108.60" y="656.00" width="6.40" height="14.00" fill="url(#g8)" fill-opacity="0.240" filter="url(#b2)"/>
<rect x="116.20" y="656.00" width="6.40" height="14.00" fill="url(#g8)" fill-opacity="0.200" filter="url(#b2)"/>
<rect x="123.80" y="656.00" width="6.40" height="14.00" fill="url(#g8)" fill-opacity="0.160" filter="url(#b2)"/>
<rect x="131.40" y="656.00" width="6.40" height="14.00" fill="url(#g8)" fill-opacity="0.120" filter="url(#b2)"/>
<rect x="139.00" y="656.00" width="6.40" height="14.00" fill="url(#g8)" fill-opacity="0.096" filter="url(#b2)"/>
<rect x="146.60" y="656.00" width="6.40" height="14.00" fill="url(#g8)" fill-opacity="0.064" filter="url(#b2)"/>
<rect x="154.20" y="656.00" width="6.40" height="14.00" fill="url(#g8)" fill-opacity="0.048" filter="url(#b2)"/>
<rect x="161.80" y="656.00" width="6.40" height="14.00" fill="url(#g8)" fill-opacity="0.032" filter="url(#b2)"/>
<rect x="169.40" y="656.00" width="6.40" height="14.00" fill="url(#g8)" fill-opacity="0.024" filter="url(#b2)"/>
<rect x="78.45" y="653.76" width="5.90" height="2.07" rx="0.8" fill="#141414" fill-opacity="0.059" filter="url(#b1)"/>
<rect x="86.05" y="653.62" width="5.90" height="2.37" rx="0.8" fill="#141414" fill-opacity="0.283" filter="url(#b1)"/>
<rect x="93.65" y="653.34" width="5.90" height="2.91" rx="0.8" fill="#141414" fill-opacity="0.794" filter="url(#b1)"/>
<rect x="101.25" y="653.25" width="5.90" height="3.09" rx="0.8" fill="#141414" fill-opacity="0.985" filter="url(#b1)"/>
<rect x="108.85" y="653.28" width="5.90" height="3.03" rx="0.8" fill="#141414" fill-opacity="0.920" filter="url(#b1)"/>
<rect x="116.45" y="653.38" width="5.90" height="2.85" rx="0.8" fill="#141414" fill-opacity="0.733" filter="url(#b1)"/>
<rect x="124.05" y="653.43" width="5.90" height="2.73" rx="0.8" fill="#141414" fill-opacity="0.613" filter="url(#b1)"/>
<rect x="131.65" y="653.52" width="5.90" height="2.55" rx="0.8" fill="#141414" fill-opacity="0.441" filter="url(#b1)"/>
<rect x="139.25" y="653.58" width="5.90" height="2.43" rx="0.8" fill="#141414" fill-opacity="0.334" filter="url(#b1)"/>
<rect x="146.85" y="653.62" width="5.90" height="2.37" rx="0.8" fill="#141414" fill-opacity="0.283" filter="url(#b1)"/>
<rect x="154.45" y="653.64" width="5.90" height="2.31" rx="0.8" fill="#141414" fill-opacity="0.233" filter="url(#b1)"/>
<rect x="162.05" y="653.67" width="5.90" height="2.25" rx="0.8" fill="#141414" fill-opacity="0.186" filter="url(#b1)"/>
<rect x="169.65" y="653.70" width="5.90" height="2.19" rx="0.8" fill="#141414" fill-opacity="0.140" filter="url(#b1)"/>
<rect x="86.05" y="657.91" width="5.90" height="1.38" rx="0.8" fill="#141414" fill-opacity="0.059" filter="url(#b1)"/>
<rect x="93.65" y="657.83" width="5.90" height="1.54" rx="0.8" fill="#141414" fill-opacity="0.233" filter="url(#b1)"/>
<rect x="101.25" y="657.81" width="5.90" height="1.58" rx="0.8" fill="#141414" fill-opacity="0.283" filter="url(#b1)"/>
<rect x="108.85" y="657.83" width="5.90" height="1.54" rx="0.8" fill="#141414" fill-opacity="0.233" filter="url(#b1)"/>
<rect x="116.45" y="657.85" width="5.90" height="1.50" rx="0.8" fill="#141414" fill-opacity="0.186" filter="url(#b1)"/>
<rect x="124.05" y="657.87" width="5.90" height="1.46" rx="0.8" fill="#141414" fill-opacity="0.140" filter="url(#b1)"/>
<rect x="131.65" y="657.89" width="5.90" height="1.42" rx="0.8" fill="#141414" fill-opacity="0.098" filter="url(#b1)"/>
<rect x="139.25" y="657.91" width="5.90" height="1.38" rx="0.8" fill="#141414" fill-opacity="0.059" filter="url(#b1)"/>
<rect x="146.85" y="657.92" width="5.90" height="1.36" rx="0.8" fill="#141414" fill-opacity="0.045" filter="url(#b1)"/>
<rect x="154.45" y="657.93" width="5.90" height="1.34" rx="0.8" fill="#141414" fill-opacity="0.025" filter="url(#b1)"/>
<rect x="86.05" y="668.12" width="5.90" height="1.36" rx="0.8" fill="#141414" fill-opacity="0.045" filter="url(#b1)"/>
<rect x="93.65" y="668.11" width="5.90" height="1.38" rx="0.8" fill="#141414" fill-opacity="0.059" filter="url(#b1)"/>
<rect x="101.25" y="668.11" width="5.90" height="1.38" rx="0.8" fill="#141414" fill-opacity="0.059" filter="url(#b1)"/>
<rect x="108.85" y="668.12" width="5.90" height="1.36" rx="0.8" fill="#141414" fill-opacity="0.045" filter="url(#b1)"/>
<rect x="116.45" y="668.13" width="5.90" height="1.34" rx="0.8" fill="#141414" fill-opacity="0.025" filter="url(#b1)"/>
<rect x="63.00" y="651.80" width="117.50" height="32.60" fill="none" stroke="#5b57aa" stroke-width="1.3" stroke-dasharray="3.8,2.1"/>
<line x1="58.40" y1="658.10" x2="62.50" y2="658.10" stroke="#1a1a1a" stroke-width="0.9" />
<text x="57.70" y="660.15" font-size="8.8" text-anchor="end" font-weight="normal" fill="#1a1a1a" >75</text>
<line x1="58.40" y1="666.50" x2="62.50" y2="666.50" stroke="#1a1a1a" stroke-width="0.9" />
<text x="57.70" y="667.85" font-size="8.8" text-anchor="end" font-weight="normal" fill="#1a1a1a" >50</text>
<line x1="58.40" y1="673.20" x2="62.50" y2="673.20" stroke="#1a1a1a" stroke-width="0.9" />
<text x="57.70" y="675.75" font-size="8.8" text-anchor="end" font-weight="normal" fill="#1a1a1a" >37</text>
<line x1="58.40" y1="681.70" x2="62.50" y2="681.70" stroke="#1a1a1a" stroke-width="0.9" />
<text x="57.70" y="683.75" font-size="8.8" text-anchor="end" font-weight="normal" fill="#1a1a1a" >25</text>
<polyline points="180.90,655.00 185.50,655.00" fill="none" stroke="#1a1a1a" stroke-width="1.0" />
<text x="187.00" y="658.40" text-anchor="start" fill="#1a1a1a"><tspan font-size="5.0" dy="-3.0" font-style="italic">mCh</tspan><tspan font-size="9.0" dy="3.0">Spindly</tspan><tspan font-size="4.9" dy="-3.4">76-605</tspan></text>
<rect x="62.90" y="705.50" width="117.60" height="40.70" fill="url(#g9)"/>
<rect x="64.50" y="708.60" width="6.20" height="1.80" fill="#141414" fill-opacity="0.297" filter="url(#b1)"/>
<rect x="64.50" y="712.85" width="6.20" height="1.80" fill="#141414" fill-opacity="0.425" filter="url(#b1)"/>
<rect x="64.50" y="721.30" width="6.20" height="1.80" fill="#141414" fill-opacity="0.425" filter="url(#b1)"/>
<rect x="64.50" y="727.50" width="6.20" height="1.80" fill="#141414" fill-opacity="0.255" filter="url(#b1)"/>
<rect x="64.50" y="736.70" width="6.20" height="1.80" fill="#141414" fill-opacity="0.425" filter="url(#b1)"/>
<rect x="85.80" y="712.00" width="6.40" height="14.00" fill="url(#g10)" fill-opacity="0.048" filter="url(#b2)"/>
<rect x="93.40" y="712.00" width="6.40" height="14.00" fill="url(#g10)" fill-opacity="0.144" filter="url(#b2)"/>
<rect x="101.00" y="712.00" width="6.40" height="14.00" fill="url(#g10)" fill-opacity="0.176" filter="url(#b2)"/>
<rect x="108.60" y="712.00" width="6.40" height="14.00" fill="url(#g10)" fill-opacity="0.160" filter="url(#b2)"/>
<rect x="116.20" y="712.00" width="6.40" height="14.00" fill="url(#g10)" fill-opacity="0.120" filter="url(#b2)"/>
<rect x="123.80" y="712.00" width="6.40" height="14.00" fill="url(#g10)" fill-opacity="0.096" filter="url(#b2)"/>
<rect x="131.40" y="712.00" width="6.40" height="14.00" fill="url(#g10)" fill-opacity="0.080" filter="url(#b2)"/>
<rect x="139.00" y="712.00" width="6.40" height="14.00" fill="url(#g10)" fill-opacity="0.064" filter="url(#b2)"/>
<rect x="146.60" y="712.00" width="6.40" height="14.00" fill="url(#g10)" fill-opacity="0.048" filter="url(#b2)"/>
<rect x="154.20" y="712.00" width="6.40" height="14.00" fill="url(#g10)" fill-opacity="0.040" filter="url(#b2)"/>
<rect x="161.80" y="712.00" width="6.40" height="14.00" fill="url(#g10)" fill-opacity="0.032" filter="url(#b2)"/>
<rect x="169.40" y="712.00" width="6.40" height="14.00" fill="url(#g10)" fill-opacity="0.024" filter="url(#b2)"/>
<rect x="78.45" y="709.23" width="5.90" height="2.13" rx="0.8" fill="#141414" fill-opacity="0.098" filter="url(#b1)"/>
<rect x="86.05" y="709.05" width="5.90" height="2.49" rx="0.8" fill="#141414" fill-opacity="0.387" filter="url(#b1)"/>
<rect x="93.65" y="708.78" width="5.90" height="3.03" rx="0.8" fill="#141414" fill-opacity="0.920" filter="url(#b1)"/>
<rect x="101.25" y="708.75" width="5.90" height="3.09" rx="0.8" fill="#141414" fill-opacity="0.985" filter="url(#b1)"/>
<rect x="108.85" y="708.88" width="5.90" height="2.85" rx="0.8" fill="#141414" fill-opacity="0.733" filter="url(#b1)"/>
<rect x="116.45" y="708.96" width="5.90" height="2.67" rx="0.8" fill="#141414" fill-opacity="0.554" filter="url(#b1)"/>
<rect x="124.05" y="709.00" width="5.90" height="2.61" rx="0.8" fill="#141414" fill-opacity="0.497" filter="url(#b1)"/>
<rect x="131.65" y="709.02" width="5.90" height="2.55" rx="0.8" fill="#141414" fill-opacity="0.441" filter="url(#b1)"/>
<rect x="139.25" y="709.05" width="5.90" height="2.49" rx="0.8" fill="#141414" fill-opacity="0.387" filter="url(#b1)"/>
<rect x="146.85" y="709.08" width="5.90" height="2.43" rx="0.8" fill="#141414" fill-opacity="0.334" filter="url(#b1)"/>
<rect x="154.45" y="709.12" width="5.90" height="2.37" rx="0.8" fill="#141414" fill-opacity="0.283" filter="url(#b1)"/>
<rect x="162.05" y="709.14" width="5.90" height="2.31" rx="0.8" fill="#141414" fill-opacity="0.233" filter="url(#b1)"/>
<rect x="169.65" y="709.17" width="5.90" height="2.25" rx="0.8" fill="#141414" fill-opacity="0.186" filter="url(#b1)"/>
<rect x="86.05" y="713.33" width="5.90" height="1.14" rx="0.8" fill="#141414" fill-opacity="0.098" filter="url(#b1)"/>
<rect x="93.65" y="713.32" width="5.90" height="1.17" rx="0.8" fill="#141414" fill-opacity="0.140" filter="url(#b1)"/>
<rect x="101.25" y="713.32" width="5.90" height="1.17" rx="0.8" fill="#141414" fill-opacity="0.140" filter="url(#b1)"/>
<rect x="108.85" y="713.32" width="5.90" height="1.17" rx="0.8" fill="#141414" fill-opacity="0.140" filter="url(#b1)"/>
<rect x="116.45" y="713.32" width="5.90" height="1.16" rx="0.8" fill="#141414" fill-opacity="0.123" filter="url(#b1)"/>
<rect x="124.05" y="713.33" width="5.90" height="1.14" rx="0.8" fill="#141414" fill-opacity="0.098" filter="url(#b1)"/>
<rect x="131.65" y="713.34" width="5.90" height="1.12" rx="0.8" fill="#141414" fill-opacity="0.074" filter="url(#b1)"/>
<rect x="139.25" y="713.35" width="5.90" height="1.10" rx="0.8" fill="#141414" fill-opacity="0.059" filter="url(#b1)"/>
<rect x="146.85" y="713.35" width="5.90" height="1.09" rx="0.8" fill="#141414" fill-opacity="0.045" filter="url(#b1)"/>
<rect x="124.05" y="717.43" width="5.90" height="1.54" rx="0.8" fill="#141414" fill-opacity="0.233" filter="url(#b1)"/>
<rect x="131.65" y="717.41" width="5.90" height="1.58" rx="0.8" fill="#141414" fill-opacity="0.283" filter="url(#b1)"/>
<rect x="139.25" y="717.39" width="5.90" height="1.62" rx="0.8" fill="#141414" fill-opacity="0.334" filter="url(#b1)"/>
<rect x="146.85" y="717.37" width="5.90" height="1.66" rx="0.8" fill="#141414" fill-opacity="0.387" filter="url(#b1)"/>
<rect x="154.45" y="717.37" width="5.90" height="1.66" rx="0.8" fill="#141414" fill-opacity="0.387" filter="url(#b1)"/>
<rect x="162.05" y="717.39" width="5.90" height="1.62" rx="0.8" fill="#141414" fill-opacity="0.334" filter="url(#b1)"/>
<rect x="169.65" y="717.41" width="5.90" height="1.58" rx="0.8" fill="#141414" fill-opacity="0.283" filter="url(#b1)"/>
<rect x="86.05" y="723.11" width="5.90" height="1.39" rx="0.8" fill="#141414" fill-opacity="0.140" filter="url(#b1)"/>
<rect x="93.65" y="723.10" width="5.90" height="1.40" rx="0.8" fill="#141414" fill-opacity="0.158" filter="url(#b1)"/>
<rect x="101.25" y="723.09" width="5.90" height="1.42" rx="0.8" fill="#141414" fill-opacity="0.186" filter="url(#b1)"/>
<rect x="108.85" y="723.08" width="5.90" height="1.45" rx="0.8" fill="#141414" fill-opacity="0.214" filter="url(#b1)"/>
<rect x="116.45" y="723.07" width="5.90" height="1.46" rx="0.8" fill="#141414" fill-opacity="0.233" filter="url(#b1)"/>
<rect x="124.05" y="723.06" width="5.90" height="1.48" rx="0.8" fill="#141414" fill-opacity="0.253" filter="url(#b1)"/>
<rect x="131.65" y="723.05" width="5.90" height="1.50" rx="0.8" fill="#141414" fill-opacity="0.283" filter="url(#b1)"/>
<rect x="139.25" y="723.05" width="5.90" height="1.50" rx="0.8" fill="#141414" fill-opacity="0.283" filter="url(#b1)"/>
<rect x="146.85" y="723.05" width="5.90" height="1.50" rx="0.8" fill="#141414" fill-opacity="0.283" filter="url(#b1)"/>
<rect x="154.45" y="723.06" width="5.90" height="1.48" rx="0.8" fill="#141414" fill-opacity="0.253" filter="url(#b1)"/>
<rect x="162.05" y="723.07" width="5.90" height="1.46" rx="0.8" fill="#141414" fill-opacity="0.233" filter="url(#b1)"/>
<rect x="169.65" y="723.08" width="5.90" height="1.45" rx="0.8" fill="#141414" fill-opacity="0.214" filter="url(#b1)"/>
<rect x="108.85" y="738.25" width="5.90" height="1.10" rx="0.8" fill="#141414" fill-opacity="0.059" filter="url(#b1)"/>
<rect x="116.45" y="738.24" width="5.90" height="1.12" rx="0.8" fill="#141414" fill-opacity="0.074" filter="url(#b1)"/>
<rect x="124.05" y="738.24" width="5.90" height="1.13" rx="0.8" fill="#141414" fill-opacity="0.090" filter="url(#b1)"/>
<rect x="131.65" y="738.24" width="5.90" height="1.13" rx="0.8" fill="#141414" fill-opacity="0.090" filter="url(#b1)"/>
<rect x="139.25" y="738.24" width="5.90" height="1.13" rx="0.8" fill="#141414" fill-opacity="0.090" filter="url(#b1)"/>
<rect x="146.85" y="738.24" width="5.90" height="1.12" rx="0.8" fill="#141414" fill-opacity="0.074" filter="url(#b1)"/>
<rect x="154.45" y="738.24" width="5.90" height="1.12" rx="0.8" fill="#141414" fill-opacity="0.074" filter="url(#b1)"/>
<rect x="162.05" y="738.25" width="5.90" height="1.10" rx="0.8" fill="#141414" fill-opacity="0.059" filter="url(#b1)"/>
<rect x="169.65" y="738.25" width="5.90" height="1.09" rx="0.8" fill="#141414" fill-opacity="0.045" filter="url(#b1)"/>
<rect x="108.85" y="740.85" width="5.90" height="1.10" rx="0.8" fill="#141414" fill-opacity="0.059" filter="url(#b1)"/>
<rect x="116.45" y="740.84" width="5.90" height="1.12" rx="0.8" fill="#141414" fill-opacity="0.074" filter="url(#b1)"/>
<rect x="124.05" y="740.84" width="5.90" height="1.13" rx="0.8" fill="#141414" fill-opacity="0.090" filter="url(#b1)"/>
<rect x="131.65" y="740.84" width="5.90" height="1.13" rx="0.8" fill="#141414" fill-opacity="0.090" filter="url(#b1)"/>
<rect x="139.25" y="740.84" width="5.90" height="1.13" rx="0.8" fill="#141414" fill-opacity="0.090" filter="url(#b1)"/>
<rect x="146.85" y="740.84" width="5.90" height="1.12" rx="0.8" fill="#141414" fill-opacity="0.074" filter="url(#b1)"/>
<rect x="154.45" y="740.84" width="5.90" height="1.12" rx="0.8" fill="#141414" fill-opacity="0.074" filter="url(#b1)"/>
<rect x="162.05" y="740.85" width="5.90" height="1.10" rx="0.8" fill="#141414" fill-opacity="0.059" filter="url(#b1)"/>
<rect x="169.65" y="740.85" width="5.90" height="1.09" rx="0.8" fill="#141414" fill-opacity="0.045" filter="url(#b1)"/>
<rect x="62.90" y="705.50" width="117.60" height="40.70" fill="none" stroke="#5b57aa" stroke-width="1.3" />
<line x1="58.30" y1="709.50" x2="62.40" y2="709.50" stroke="#1a1a1a" stroke-width="0.9" />
<text x="57.60" y="711.75" font-size="8.8" text-anchor="end" font-weight="normal" fill="#1a1a1a" >100</text>
<line x1="58.30" y1="714.10" x2="62.40" y2="714.10" stroke="#1a1a1a" stroke-width="0.9" />
<text x="57.60" y="719.55" font-size="8.8" text-anchor="end" font-weight="normal" fill="#1a1a1a" >75</text>
<line x1="58.30" y1="722.80" x2="62.40" y2="722.80" stroke="#1a1a1a" stroke-width="0.9" />
<text x="57.60" y="727.05" font-size="8.8" text-anchor="end" font-weight="normal" fill="#1a1a1a" >50</text>
<line x1="58.30" y1="729.50" x2="62.40" y2="729.50" stroke="#1a1a1a" stroke-width="0.9" />
<text x="57.60" y="734.95" font-size="8.8" text-anchor="end" font-weight="normal" fill="#1a1a1a" >37</text>
<line x1="58.30" y1="738.00" x2="62.40" y2="738.00" stroke="#1a1a1a" stroke-width="0.9" />
<text x="57.60" y="743.15" font-size="8.8" text-anchor="end" font-weight="normal" fill="#1a1a1a" >25</text>
<polyline points="180.90,710.80 185.50,710.80" fill="none" stroke="#1a1a1a" stroke-width="1.0" />
<text x="187.00" y="711.60" text-anchor="start" fill="#1a1a1a"><tspan font-size="5.0" dy="-3.0" font-style="italic">mCh</tspan><tspan font-size="9.0" dy="3.0">Spindly</tspan><tspan font-size="4.9" dy="-3.4">76-605</tspan></text>
<polyline points="180.90,718.80 185.50,718.80" fill="none" stroke="#1a1a1a" stroke-width="1.0" />
<text x="187.20" y="720.80" text-anchor="start" fill="#1a1a1a"><tspan font-size="8.8" dy="0">p62</tspan></text>
<polyline points="180.90,725.00 185.50,725.00" fill="none" stroke="#1a1a1a" stroke-width="1.0" />
<text x="187.20" y="728.80" text-anchor="start" fill="#1a1a1a"><tspan font-size="8.8" dy="0">Arp11</tspan></text>
<polyline points="180.90,738.90 185.50,738.90" fill="none" stroke="#1a1a1a" stroke-width="1.0" />
<text x="187.20" y="739.50" text-anchor="start" fill="#1a1a1a"><tspan font-size="8.8" dy="0">p27</tspan></text>
<polyline points="180.90,742.30 185.50,742.30" fill="none" stroke="#1a1a1a" stroke-width="1.0" />
<text x="187.20" y="747.40" text-anchor="start" fill="#1a1a1a"><tspan font-size="8.8" dy="0">p25</tspan></text>
<rect x="328.40" y="222.30" width="117.80" height="51.90" fill="url(#g11)"/>
<rect x="330.80" y="225.95" width="5.60" height="1.60" fill="#141414" fill-opacity="0.212" filter="url(#b1)"/>
<rect x="330.80" y="231.70" width="5.60" height="1.60" fill="#141414" fill-opacity="0.340" filter="url(#b1)"/>
<rect x="330.80" y="241.70" width="5.60" height="1.60" fill="#141414" fill-opacity="0.340" filter="url(#b1)"/>
<rect x="330.80" y="249.70" width="5.60" height="1.60" fill="#141414" fill-opacity="0.255" filter="url(#b1)"/>
<rect x="330.80" y="263.45" width="5.60" height="1.60" fill="#141414" fill-opacity="0.425" filter="url(#b1)"/>
<rect x="330.80" y="272.70" width="5.60" height="1.60" fill="#141414" fill-opacity="0.128" filter="url(#b1)"/>
<rect x="345.90" y="227.39" width="5.90" height="1.23" rx="0.8" fill="#141414" fill-opacity="0.045" filter="url(#b1)"/>
<rect x="353.75" y="227.38" width="5.90" height="1.24" rx="0.8" fill="#141414" fill-opacity="0.059" filter="url(#b1)"/>
<rect x="361.60" y="227.38" width="5.90" height="1.24" rx="0.8" fill="#141414" fill-opacity="0.059" filter="url(#b1)"/>
<rect x="369.45" y="227.39" width="5.90" height="1.23" rx="0.8" fill="#141414" fill-opacity="0.045" filter="url(#b1)"/>
<rect x="377.30" y="227.40" width="5.90" height="1.21" rx="0.8" fill="#141414" fill-opacity="0.025" filter="url(#b1)"/>
<rect x="400.60" y="224.00" width="6.40" height="14.00" fill="url(#g12)" fill-opacity="0.024" filter="url(#b2)"/>
<rect x="408.45" y="224.00" width="6.40" height="14.00" fill="url(#g12)" fill-opacity="0.056" filter="url(#b2)"/>
<rect x="416.30" y="224.00" width="6.40" height="14.00" fill="url(#g12)" fill-opacity="0.056" filter="url(#b2)"/>
<rect x="424.15" y="224.00" width="6.40" height="14.00" fill="url(#g12)" fill-opacity="0.024" filter="url(#b2)"/>
<rect x="377.30" y="237.91" width="5.90" height="1.68" rx="0.8" fill="#141414" fill-opacity="0.025" filter="url(#b1)"/>
<rect x="385.15" y="237.91" width="5.90" height="1.68" rx="0.8" fill="#141414" fill-opacity="0.025" filter="url(#b1)"/>
<rect x="393.00" y="237.89" width="5.90" height="1.73" rx="0.8" fill="#141414" fill-opacity="0.059" filter="url(#b1)"/>
<rect x="400.85" y="237.79" width="5.90" height="1.93" rx="0.8" fill="#141414" fill-opacity="0.233" filter="url(#b1)"/>
<rect x="408.70" y="237.61" width="5.90" height="2.27" rx="0.8" fill="#141414" fill-opacity="0.613" filter="url(#b1)"/>
<rect x="416.55" y="237.61" width="5.90" height="2.27" rx="0.8" fill="#141414" fill-opacity="0.613" filter="url(#b1)"/>
<rect x="424.40" y="237.71" width="5.90" height="2.08" rx="0.8" fill="#141414" fill-opacity="0.387" filter="url(#b1)"/>
<rect x="432.25" y="237.79" width="5.90" height="1.93" rx="0.8" fill="#141414" fill-opacity="0.233" filter="url(#b1)"/>
<rect x="440.10" y="237.84" width="5.90" height="1.82" rx="0.8" fill="#141414" fill-opacity="0.140" filter="url(#b1)"/>
<rect x="385.15" y="245.42" width="5.90" height="1.67" rx="0.8" fill="#141414" fill-opacity="0.019" filter="url(#b1)"/>
<rect x="393.00" y="245.41" width="5.90" height="1.69" rx="0.8" fill="#141414" fill-opacity="0.031" filter="url(#b1)"/>
<rect x="400.85" y="245.29" width="5.90" height="1.93" rx="0.8" fill="#141414" fill-opacity="0.233" filter="url(#b1)"/>
<rect x="408.70" y="245.11" width="5.90" height="2.27" rx="0.8" fill="#141414" fill-opacity="0.613" filter="url(#b1)"/>
<rect x="416.55" y="245.11" width="5.90" height="2.27" rx="0.8" fill="#141414" fill-opacity="0.613" filter="url(#b1)"/>
<rect x="424.40" y="245.21" width="5.90" height="2.08" rx="0.8" fill="#141414" fill-opacity="0.387" filter="url(#b1)"/>
<rect x="432.25" y="245.29" width="5.90" height="1.93" rx="0.8" fill="#141414" fill-opacity="0.233" filter="url(#b1)"/>
<rect x="440.10" y="245.34" width="5.90" height="1.82" rx="0.8" fill="#141414" fill-opacity="0.140" filter="url(#b1)"/>
<rect x="400.85" y="249.87" width="5.90" height="1.26" rx="0.8" fill="#141414" fill-opacity="0.074" filter="url(#b1)"/>
<rect x="408.70" y="249.85" width="5.90" height="1.30" rx="0.8" fill="#141414" fill-opacity="0.123" filter="url(#b1)"/>
<rect x="416.55" y="249.85" width="5.90" height="1.30" rx="0.8" fill="#141414" fill-opacity="0.123" filter="url(#b1)"/>
<rect x="424.40" y="249.86" width="5.90" height="1.28" rx="0.8" fill="#141414" fill-opacity="0.098" filter="url(#b1)"/>
<rect x="432.25" y="249.87" width="5.90" height="1.26" rx="0.8" fill="#141414" fill-opacity="0.074" filter="url(#b1)"/>
<rect x="440.10" y="249.90" width="5.90" height="1.21" rx="0.8" fill="#141414" fill-opacity="0.025" filter="url(#b1)"/>
<rect x="400.85" y="266.04" width="5.90" height="1.42" rx="0.8" fill="#141414" fill-opacity="0.098" filter="url(#b1)"/>
<rect x="408.70" y="265.96" width="5.90" height="1.58" rx="0.8" fill="#141414" fill-opacity="0.283" filter="url(#b1)"/>
<rect x="416.55" y="265.96" width="5.90" height="1.58" rx="0.8" fill="#141414" fill-opacity="0.283" filter="url(#b1)"/>
<rect x="424.40" y="266.00" width="5.90" height="1.50" rx="0.8" fill="#141414" fill-opacity="0.186" filter="url(#b1)"/>
<rect x="432.25" y="266.04" width="5.90" height="1.42" rx="0.8" fill="#141414" fill-opacity="0.098" filter="url(#b1)"/>
<rect x="440.10" y="266.06" width="5.90" height="1.38" rx="0.8" fill="#141414" fill-opacity="0.059" filter="url(#b1)"/>
<rect x="400.85" y="269.70" width="5.90" height="1.61" rx="0.8" fill="#141414" fill-opacity="0.140" filter="url(#b1)"/>
<rect x="408.70" y="269.59" width="5.90" height="1.83" rx="0.8" fill="#141414" fill-opacity="0.387" filter="url(#b1)"/>
<rect x="416.55" y="269.59" width="5.90" height="1.83" rx="0.8" fill="#141414" fill-opacity="0.387" filter="url(#b1)"/>
<rect x="424.40" y="269.65" width="5.90" height="1.69" rx="0.8" fill="#141414" fill-opacity="0.233" filter="url(#b1)"/>
<rect x="432.25" y="269.70" width="5.90" height="1.61" rx="0.8" fill="#141414" fill-opacity="0.140" filter="url(#b1)"/>
<rect x="440.10" y="269.74" width="5.90" height="1.52" rx="0.8" fill="#141414" fill-opacity="0.059" filter="url(#b1)"/>
<rect x="328.40" y="222.30" width="117.80" height="51.90" fill="none" stroke="#8d7548" stroke-width="1.3" />
<line x1="323.60" y1="228.20" x2="327.70" y2="228.20" stroke="#1a1a1a" stroke-width="0.9" />
<text x="322.90" y="229.35" font-size="8.8" text-anchor="end" font-weight="normal" fill="#1a1a1a" >100</text>
<line x1="323.60" y1="232.50" x2="327.70" y2="232.50" stroke="#1a1a1a" stroke-width="0.9" />
<text x="322.90" y="236.05" font-size="8.8" text-anchor="end" font-weight="normal" fill="#1a1a1a" >75</text>
<line x1="323.60" y1="242.40" x2="327.70" y2="242.40" stroke="#1a1a1a" stroke-width="0.9" />
<text x="322.90" y="244.75" font-size="8.8" text-anchor="end" font-weight="normal" fill="#1a1a1a" >50</text>
<line x1="323.60" y1="250.00" x2="327.70" y2="250.00" stroke="#1a1a1a" stroke-width="0.9" />
<text x="322.90" y="252.55" font-size="8.8" text-anchor="end" font-weight="normal" fill="#1a1a1a" >37</text>
<line x1="323.60" y1="262.80" x2="327.70" y2="262.80" stroke="#1a1a1a" stroke-width="0.9" />
<text x="322.90" y="265.95" font-size="8.8" text-anchor="end" font-weight="normal" fill="#1a1a1a" >25</text>
<polyline points="446.60,238.60 449.50,238.60" fill="none" stroke="#1a1a1a" stroke-width="1.0" />
<text x="450.60" y="241.00" text-anchor="start" fill="#1a1a1a"><tspan font-size="8.8" dy="0">p62</tspan></text>
<polyline points="446.60,246.40 449.50,246.40" fill="none" stroke="#1a1a1a" stroke-width="1.0" />
<text x="450.60" y="249.50" text-anchor="start" fill="#1a1a1a"><tspan font-size="8.8" dy="0">Arp11</tspan></text>
<polyline points="446.60,266.50 449.50,266.50" fill="none" stroke="#1a1a1a" stroke-width="1.0" />
<text x="450.60" y="267.00" text-anchor="start" fill="#1a1a1a"><tspan font-size="8.8" dy="0">p27</tspan></text>
<polyline points="446.60,268.60 447.80,268.60 448.60,271.40 449.80,271.40" fill="none" stroke="#1a1a1a" stroke-width="1.0" />
<text x="450.60" y="275.00" text-anchor="start" fill="#1a1a1a"><tspan font-size="8.8" dy="0">p25</tspan></text>
<rect x="328.40" y="283.80" width="117.80" height="40.60" fill="url(#g13)"/>
<rect x="330.80" y="287.95" width="5.60" height="1.60" fill="#141414" fill-opacity="0.212" filter="url(#b1)"/>
<rect x="330.80" y="292.95" width="5.60" height="1.60" fill="#141414" fill-opacity="0.383" filter="url(#b1)"/>
<rect x="330.80" y="302.95" width="5.60" height="1.60" fill="#141414" fill-opacity="0.255" filter="url(#b1)"/>
<rect x="330.80" y="311.70" width="5.60" height="1.60" fill="#141414" fill-opacity="0.212" filter="url(#b1)"/>
<rect x="330.80" y="319.70" width="5.60" height="1.60" fill="#141414" fill-opacity="0.212" filter="url(#b1)"/>
<rect x="338.05" y="289.50" width="5.90" height="2.00" rx="0.8" fill="#141414" fill-opacity="0.233" filter="url(#b1)"/>
<rect x="345.90" y="289.42" width="5.90" height="2.16" rx="0.8" fill="#141414" fill-opacity="0.387" filter="url(#b1)"/>
<rect x="353.75" y="289.26" width="5.90" height="2.47" rx="0.8" fill="#141414" fill-opacity="0.733" filter="url(#b1)"/>
<rect x="361.60" y="289.24" width="5.90" height="2.52" rx="0.8" fill="#141414" fill-opacity="0.794" filter="url(#b1)"/>
<rect x="369.45" y="289.32" width="5.90" height="2.37" rx="0.8" fill="#141414" fill-opacity="0.613" filter="url(#b1)"/>
<rect x="377.30" y="289.39" width="5.90" height="2.21" rx="0.8" fill="#141414" fill-opacity="0.441" filter="url(#b1)"/>
<rect x="385.15" y="289.45" width="5.90" height="2.11" rx="0.8" fill="#141414" fill-opacity="0.334" filter="url(#b1)"/>
<rect x="393.00" y="289.47" width="5.90" height="2.05" rx="0.8" fill="#141414" fill-opacity="0.283" filter="url(#b1)"/>
<rect x="400.85" y="289.50" width="5.90" height="2.00" rx="0.8" fill="#141414" fill-opacity="0.233" filter="url(#b1)"/>
<rect x="408.70" y="289.52" width="5.90" height="1.95" rx="0.8" fill="#141414" fill-opacity="0.186" filter="url(#b1)"/>
<rect x="416.55" y="289.55" width="5.90" height="1.90" rx="0.8" fill="#141414" fill-opacity="0.140" filter="url(#b1)"/>
<rect x="424.40" y="289.58" width="5.90" height="1.85" rx="0.8" fill="#141414" fill-opacity="0.098" filter="url(#b1)"/>
<rect x="432.25" y="289.60" width="5.90" height="1.79" rx="0.8" fill="#141414" fill-opacity="0.059" filter="url(#b1)"/>
<rect x="440.10" y="289.60" width="5.90" height="1.79" rx="0.8" fill="#141414" fill-opacity="0.059" filter="url(#b1)"/>
<rect x="345.90" y="293.73" width="5.90" height="1.14" rx="0.8" fill="#141414" fill-opacity="0.098" filter="url(#b1)"/>
<rect x="353.75" y="293.73" width="5.90" height="1.14" rx="0.8" fill="#141414" fill-opacity="0.098" filter="url(#b1)"/>
<rect x="361.60" y="293.73" width="5.90" height="1.14" rx="0.8" fill="#141414" fill-opacity="0.098" filter="url(#b1)"/>
<rect x="369.45" y="293.73" width="5.90" height="1.14" rx="0.8" fill="#141414" fill-opacity="0.098" filter="url(#b1)"/>
<rect x="377.30" y="293.73" width="5.90" height="1.14" rx="0.8" fill="#141414" fill-opacity="0.098" filter="url(#b1)"/>
<rect x="377.30" y="303.69" width="5.90" height="1.23" rx="0.8" fill="#141414" fill-opacity="0.045" filter="url(#b1)"/>
<rect x="385.15" y="303.69" width="5.90" height="1.23" rx="0.8" fill="#141414" fill-opacity="0.045" filter="url(#b1)"/>
<rect x="393.00" y="303.69" width="5.90" height="1.23" rx="0.8" fill="#141414" fill-opacity="0.045" filter="url(#b1)"/>
<rect x="400.85" y="303.69" width="5.90" height="1.21" rx="0.8" fill="#141414" fill-opacity="0.031" filter="url(#b1)"/>
<rect x="328.40" y="283.80" width="117.80" height="40.60" fill="none" stroke="#6cb456" stroke-width="1.3" stroke-dasharray="3.8,2.1"/>
<line x1="323.60" y1="285.30" x2="327.70" y2="285.30" stroke="#1a1a1a" stroke-width="0.9" />
<text x="322.90" y="287.45" font-size="8.8" text-anchor="end" font-weight="normal" fill="#1a1a1a" >100</text>
<line x1="323.60" y1="291.20" x2="327.70" y2="291.20" stroke="#1a1a1a" stroke-width="0.9" />
<text x="322.90" y="294.35" font-size="8.8" text-anchor="end" font-weight="normal" fill="#1a1a1a" >75</text>
<line x1="323.60" y1="300.60" x2="327.70" y2="300.60" stroke="#1a1a1a" stroke-width="0.9" />
<text x="322.90" y="302.55" font-size="8.8" text-anchor="end" font-weight="normal" fill="#1a1a1a" >50</text>
<line x1="323.60" y1="308.40" x2="327.70" y2="308.40" stroke="#1a1a1a" stroke-width="0.9" />
<text x="322.90" y="311.55" font-size="8.8" text-anchor="end" font-weight="normal" fill="#1a1a1a" >37</text>
<line x1="323.60" y1="320.80" x2="327.70" y2="320.80" stroke="#1a1a1a" stroke-width="0.9" />
<text x="322.90" y="323.65" font-size="8.8" text-anchor="end" font-weight="normal" fill="#1a1a1a" >25</text>
<polyline points="446.60,290.40 449.80,290.40" fill="none" stroke="#1a1a1a" stroke-width="1.0" />
<text x="450.50" y="293.60" text-anchor="start" fill="#1a1a1a"><tspan font-size="5.0" dy="-3.0" font-style="italic">mCh</tspan><tspan font-size="9.0" dy="3.0">Spindly</tspan><tspan font-size="4.9" dy="-3.4">Δ26-28</tspan></text>
<rect x="328.40" y="337.10" width="117.80" height="53.10" fill="url(#g14)"/>
<rect x="330.80" y="341.45" width="5.60" height="1.60" fill="#141414" fill-opacity="0.212" filter="url(#b1)"/>
<rect x="330.80" y="346.45" width="5.60" height="1.60" fill="#141414" fill-opacity="0.383" filter="url(#b1)"/>
<rect x="330.80" y="354.70" width="5.60" height="1.60" fill="#141414" fill-opacity="0.297" filter="url(#b1)"/>
<rect x="330.80" y="367.20" width="5.60" height="1.60" fill="#141414" fill-opacity="0.212" filter="url(#b1)"/>
<rect x="330.80" y="379.70" width="5.60" height="1.60" fill="#141414" fill-opacity="0.255" filter="url(#b1)"/>
<rect x="338.05" y="343.21" width="5.90" height="2.08" rx="0.8" fill="#141414" fill-opacity="0.233" filter="url(#b1)"/>
<rect x="345.90" y="343.10" width="5.90" height="2.30" rx="0.8" fill="#141414" fill-opacity="0.441" filter="url(#b1)"/>
<rect x="353.75" y="342.97" width="5.90" height="2.57" rx="0.8" fill="#141414" fill-opacity="0.733" filter="url(#b1)"/>
<rect x="361.60" y="342.94" width="5.90" height="2.62" rx="0.8" fill="#141414" fill-opacity="0.794" filter="url(#b1)"/>
<rect x="369.45" y="342.99" width="5.90" height="2.51" rx="0.8" fill="#141414" fill-opacity="0.672" filter="url(#b1)"/>
<rect x="377.30" y="343.05" width="5.90" height="2.40" rx="0.8" fill="#141414" fill-opacity="0.554" filter="url(#b1)"/>
<rect x="385.15" y="343.08" width="5.90" height="2.35" rx="0.8" fill="#141414" fill-opacity="0.497" filter="url(#b1)"/>
<rect x="393.00" y="343.13" width="5.90" height="2.24" rx="0.8" fill="#141414" fill-opacity="0.387" filter="url(#b1)"/>
<rect x="400.85" y="343.16" width="5.90" height="2.19" rx="0.8" fill="#141414" fill-opacity="0.334" filter="url(#b1)"/>
<rect x="408.70" y="343.18" width="5.90" height="2.13" rx="0.8" fill="#141414" fill-opacity="0.283" filter="url(#b1)"/>
<rect x="416.55" y="343.21" width="5.90" height="2.08" rx="0.8" fill="#141414" fill-opacity="0.233" filter="url(#b1)"/>
<rect x="424.40" y="343.24" width="5.90" height="2.03" rx="0.8" fill="#141414" fill-opacity="0.186" filter="url(#b1)"/>
<rect x="432.25" y="343.26" width="5.90" height="1.97" rx="0.8" fill="#141414" fill-opacity="0.140" filter="url(#b1)"/>
<rect x="440.10" y="343.29" width="5.90" height="1.92" rx="0.8" fill="#141414" fill-opacity="0.098" filter="url(#b1)"/>
<rect x="338.05" y="347.45" width="5.90" height="1.09" rx="0.8" fill="#141414" fill-opacity="0.045" filter="url(#b1)"/>
<rect x="345.90" y="347.43" width="5.90" height="1.14" rx="0.8" fill="#141414" fill-opacity="0.098" filter="url(#b1)"/>
<rect x="353.75" y="347.42" width="5.90" height="1.17" rx="0.8" fill="#141414" fill-opacity="0.140" filter="url(#b1)"/>
<rect x="361.60" y="347.42" width="5.90" height="1.17" rx="0.8" fill="#141414" fill-opacity="0.140" filter="url(#b1)"/>
<rect x="369.45" y="347.42" width="5.90" height="1.16" rx="0.8" fill="#141414" fill-opacity="0.123" filter="url(#b1)"/>
<rect x="377.30" y="347.43" width="5.90" height="1.14" rx="0.8" fill="#141414" fill-opacity="0.098" filter="url(#b1)"/>
<rect x="385.15" y="347.44" width="5.90" height="1.12" rx="0.8" fill="#141414" fill-opacity="0.074" filter="url(#b1)"/>
<rect x="393.00" y="347.45" width="5.90" height="1.10" rx="0.8" fill="#141414" fill-opacity="0.059" filter="url(#b1)"/>
<rect x="400.85" y="347.45" width="5.90" height="1.09" rx="0.8" fill="#141414" fill-opacity="0.045" filter="url(#b1)"/>
<rect x="408.70" y="347.46" width="5.90" height="1.08" rx="0.8" fill="#141414" fill-opacity="0.031" filter="url(#b1)"/>
<rect x="416.55" y="347.46" width="5.90" height="1.07" rx="0.8" fill="#141414" fill-opacity="0.025" filter="url(#b1)"/>
<rect x="393.00" y="354.18" width="5.90" height="1.63" rx="0.8" fill="#141414" fill-opacity="0.098" filter="url(#b1)"/>
<rect x="400.85" y="354.11" width="5.90" height="1.77" rx="0.8" fill="#141414" fill-opacity="0.233" filter="url(#b1)"/>
<rect x="408.70" y="354.05" width="5.90" height="1.91" rx="0.8" fill="#141414" fill-opacity="0.387" filter="url(#b1)"/>
<rect x="416.55" y="354.05" width="5.90" height="1.91" rx="0.8" fill="#141414" fill-opacity="0.387" filter="url(#b1)"/>
<rect x="424.40" y="354.07" width="5.90" height="1.86" rx="0.8" fill="#141414" fill-opacity="0.334" filter="url(#b1)"/>
<rect x="432.25" y="354.09" width="5.90" height="1.82" rx="0.8" fill="#141414" fill-opacity="0.283" filter="url(#b1)"/>
<rect x="440.10" y="354.14" width="5.90" height="1.72" rx="0.8" fill="#141414" fill-opacity="0.186" filter="url(#b1)"/>
<rect x="393.00" y="361.41" width="5.90" height="1.68" rx="0.8" fill="#141414" fill-opacity="0.140" filter="url(#b1)"/>
<rect x="400.85" y="361.34" width="5.90" height="1.82" rx="0.8" fill="#141414" fill-opacity="0.283" filter="url(#b1)"/>
<rect x="408.70" y="361.27" width="5.90" height="1.96" rx="0.8" fill="#141414" fill-opacity="0.441" filter="url(#b1)"/>
<rect x="416.55" y="361.27" width="5.90" height="1.96" rx="0.8" fill="#141414" fill-opacity="0.441" filter="url(#b1)"/>
<rect x="424.40" y="361.32" width="5.90" height="1.86" rx="0.8" fill="#141414" fill-opacity="0.334" filter="url(#b1)"/>
<rect x="432.25" y="361.34" width="5.90" height="1.82" rx="0.8" fill="#141414" fill-opacity="0.283" filter="url(#b1)"/>
<rect x="440.10" y="361.39" width="5.90" height="1.72" rx="0.8" fill="#141414" fill-opacity="0.186" filter="url(#b1)"/>
<rect x="400.85" y="366.70" width="5.90" height="1.10" rx="0.8" fill="#141414" fill-opacity="0.059" filter="url(#b1)"/>
<rect x="408.70" y="366.69" width="5.90" height="1.12" rx="0.8" fill="#141414" fill-opacity="0.074" filter="url(#b1)"/>
<rect x="416.55" y="366.69" width="5.90" height="1.12" rx="0.8" fill="#141414" fill-opacity="0.074" filter="url(#b1)"/>
<rect x="424.40" y="366.70" width="5.90" height="1.10" rx="0.8" fill="#141414" fill-opacity="0.059" filter="url(#b1)"/>
<rect x="432.25" y="366.70" width="5.90" height="1.09" rx="0.8" fill="#141414" fill-opacity="0.045" filter="url(#b1)"/>
<rect x="400.85" y="382.36" width="5.90" height="1.28" rx="0.8" fill="#141414" fill-opacity="0.098" filter="url(#b1)"/>
<rect x="408.70" y="382.36" width="5.90" height="1.28" rx="0.8" fill="#141414" fill-opacity="0.098" filter="url(#b1)"/>
<rect x="416.55" y="382.36" width="5.90" height="1.28" rx="0.8" fill="#141414" fill-opacity="0.098" filter="url(#b1)"/>
<rect x="424.40" y="382.36" width="5.90" height="1.28" rx="0.8" fill="#141414" fill-opacity="0.098" filter="url(#b1)"/>
<rect x="432.25" y="382.37" width="5.90" height="1.26" rx="0.8" fill="#141414" fill-opacity="0.074" filter="url(#b1)"/>
<rect x="400.85" y="385.36" width="5.90" height="1.28" rx="0.8" fill="#141414" fill-opacity="0.098" filter="url(#b1)"/>
<rect x="408.70" y="385.36" width="5.90" height="1.28" rx="0.8" fill="#141414" fill-opacity="0.098" filter="url(#b1)"/>
<rect x="416.55" y="385.36" width="5.90" height="1.28" rx="0.8" fill="#141414" fill-opacity="0.098" filter="url(#b1)"/>
<rect x="424.40" y="385.36" width="5.90" height="1.28" rx="0.8" fill="#141414" fill-opacity="0.098" filter="url(#b1)"/>
<rect x="432.25" y="385.37" width="5.90" height="1.26" rx="0.8" fill="#141414" fill-opacity="0.074" filter="url(#b1)"/>
<rect x="328.40" y="337.10" width="117.80" height="53.10" fill="none" stroke="#6cb456" stroke-width="1.3" />
<line x1="323.60" y1="342.60" x2="327.70" y2="342.60" stroke="#1a1a1a" stroke-width="0.9" />
<text x="322.90" y="344.15" font-size="8.8" text-anchor="end" font-weight="normal" fill="#1a1a1a" >100</text>
<line x1="323.60" y1="347.10" x2="327.70" y2="347.10" stroke="#1a1a1a" stroke-width="0.9" />
<text x="322.90" y="351.05" font-size="8.8" text-anchor="end" font-weight="normal" fill="#1a1a1a" >75</text>
<line x1="323.60" y1="356.40" x2="327.70" y2="356.40" stroke="#1a1a1a" stroke-width="0.9" />
<text x="322.90" y="358.55" font-size="8.8" text-anchor="end" font-weight="normal" fill="#1a1a1a" >50</text>
<line x1="323.60" y1="364.40" x2="327.70" y2="364.40" stroke="#1a1a1a" stroke-width="0.9" />
<text x="322.90" y="365.65" font-size="8.8" text-anchor="end" font-weight="normal" fill="#1a1a1a" >37</text>
<line x1="323.60" y1="376.60" x2="327.70" y2="376.60" stroke="#1a1a1a" stroke-width="0.9" />
<text x="322.90" y="378.95" font-size="8.8" text-anchor="end" font-weight="normal" fill="#1a1a1a" >25</text>
<polyline points="446.60,343.40 449.80,343.40" fill="none" stroke="#1a1a1a" stroke-width="1.0" />
<text x="450.50" y="344.80" text-anchor="start" fill="#1a1a1a"><tspan font-size="5.0" dy="-3.0" font-style="italic">mCh</tspan><tspan font-size="9.0" dy="3.0">Spindly</tspan><tspan font-size="4.9" dy="-3.4">Δ26-28</tspan></text>
<polyline points="446.60,352.00 449.50,352.00" fill="none" stroke="#1a1a1a" stroke-width="1.0" />
<text x="450.60" y="354.20" text-anchor="start" fill="#1a1a1a"><tspan font-size="8.8" dy="0">p62</tspan></text>
<polyline points="446.60,358.60 449.50,358.60" fill="none" stroke="#1a1a1a" stroke-width="1.0" />
<text x="450.60" y="362.60" text-anchor="start" fill="#1a1a1a"><tspan font-size="8.8" dy="0">Arp11</tspan></text>
<polyline points="446.60,377.20 449.50,377.20" fill="none" stroke="#1a1a1a" stroke-width="1.0" />
<text x="450.60" y="379.00" text-anchor="start" fill="#1a1a1a"><tspan font-size="8.8" dy="0">p27</tspan></text>
<polyline points="446.60,382.00 447.80,382.20 448.60,384.40 449.80,384.40" fill="none" stroke="#1a1a1a" stroke-width="1.0" />
<text x="450.60" y="387.60" text-anchor="start" fill="#1a1a1a"><tspan font-size="8.8" dy="0">p25</tspan></text>
<rect x="341.20" y="593.40" width="117.40" height="52.20" fill="url(#g15)"/>
<rect x="343.80" y="596.70" width="5.60" height="1.60" fill="#141414" fill-opacity="0.212" filter="url(#b1)"/>
<rect x="343.80" y="602.70" width="5.60" height="1.60" fill="#141414" fill-opacity="0.383" filter="url(#b1)"/>
<rect x="343.80" y="612.70" width="5.60" height="1.60" fill="#141414" fill-opacity="0.383" filter="url(#b1)"/>
<rect x="343.80" y="621.45" width="5.60" height="1.60" fill="#141414" fill-opacity="0.255" filter="url(#b1)"/>
<rect x="343.80" y="634.20" width="5.60" height="1.60" fill="#141414" fill-opacity="0.425" filter="url(#b1)"/>
<rect x="357.65" y="598.64" width="5.90" height="1.23" rx="0.8" fill="#141414" fill-opacity="0.045" filter="url(#b1)"/>
<rect x="365.60" y="598.64" width="5.90" height="1.23" rx="0.8" fill="#141414" fill-opacity="0.045" filter="url(#b1)"/>
<rect x="373.55" y="598.64" width="5.90" height="1.23" rx="0.8" fill="#141414" fill-opacity="0.045" filter="url(#b1)"/>
<rect x="381.50" y="598.64" width="5.90" height="1.21" rx="0.8" fill="#141414" fill-opacity="0.031" filter="url(#b1)"/>
<rect x="413.05" y="595.00" width="6.40" height="14.00" fill="url(#g16)" fill-opacity="0.024" filter="url(#b2)"/>
<rect x="421.00" y="595.00" width="6.40" height="14.00" fill="url(#g16)" fill-opacity="0.056" filter="url(#b2)"/>
<rect x="428.95" y="595.00" width="6.40" height="14.00" fill="url(#g16)" fill-opacity="0.056" filter="url(#b2)"/>
<rect x="436.90" y="595.00" width="6.40" height="14.00" fill="url(#g16)" fill-opacity="0.024" filter="url(#b2)"/>
<rect x="389.45" y="609.16" width="5.90" height="1.68" rx="0.8" fill="#141414" fill-opacity="0.025" filter="url(#b1)"/>
<rect x="397.40" y="609.16" width="5.90" height="1.68" rx="0.8" fill="#141414" fill-opacity="0.025" filter="url(#b1)"/>
<rect x="405.35" y="609.15" width="5.90" height="1.71" rx="0.8" fill="#141414" fill-opacity="0.045" filter="url(#b1)"/>
<rect x="413.30" y="609.04" width="5.90" height="1.93" rx="0.8" fill="#141414" fill-opacity="0.233" filter="url(#b1)"/>
<rect x="421.25" y="608.84" width="5.90" height="2.32" rx="0.8" fill="#141414" fill-opacity="0.672" filter="url(#b1)"/>
<rect x="429.20" y="608.84" width="5.90" height="2.32" rx="0.8" fill="#141414" fill-opacity="0.672" filter="url(#b1)"/>
<rect x="437.15" y="608.96" width="5.90" height="2.08" rx="0.8" fill="#141414" fill-opacity="0.387" filter="url(#b1)"/>
<rect x="445.10" y="609.08" width="5.90" height="1.84" rx="0.8" fill="#141414" fill-opacity="0.158" filter="url(#b1)"/>
<rect x="453.05" y="609.12" width="5.90" height="1.77" rx="0.8" fill="#141414" fill-opacity="0.090" filter="url(#b1)"/>
<rect x="405.35" y="616.66" width="5.90" height="1.68" rx="0.8" fill="#141414" fill-opacity="0.025" filter="url(#b1)"/>
<rect x="413.30" y="616.54" width="5.90" height="1.93" rx="0.8" fill="#141414" fill-opacity="0.233" filter="url(#b1)"/>
<rect x="421.25" y="616.34" width="5.90" height="2.32" rx="0.8" fill="#141414" fill-opacity="0.672" filter="url(#b1)"/>
<rect x="429.20" y="616.34" width="5.90" height="2.32" rx="0.8" fill="#141414" fill-opacity="0.672" filter="url(#b1)"/>
<rect x="437.15" y="616.46" width="5.90" height="2.08" rx="0.8" fill="#141414" fill-opacity="0.387" filter="url(#b1)"/>
<rect x="445.10" y="616.58" width="5.90" height="1.84" rx="0.8" fill="#141414" fill-opacity="0.158" filter="url(#b1)"/>
<rect x="453.05" y="616.62" width="5.90" height="1.77" rx="0.8" fill="#141414" fill-opacity="0.090" filter="url(#b1)"/>
<rect x="413.30" y="621.61" width="5.90" height="1.28" rx="0.8" fill="#141414" fill-opacity="0.098" filter="url(#b1)"/>
<rect x="421.25" y="621.61" width="5.90" height="1.28" rx="0.8" fill="#141414" fill-opacity="0.098" filter="url(#b1)"/>
<rect x="429.20" y="621.61" width="5.90" height="1.28" rx="0.8" fill="#141414" fill-opacity="0.098" filter="url(#b1)"/>
<rect x="437.15" y="621.61" width="5.90" height="1.28" rx="0.8" fill="#141414" fill-opacity="0.098" filter="url(#b1)"/>
<rect x="445.10" y="621.62" width="5.90" height="1.26" rx="0.8" fill="#141414" fill-opacity="0.074" filter="url(#b1)"/>
<rect x="453.05" y="621.65" width="5.90" height="1.21" rx="0.8" fill="#141414" fill-opacity="0.025" filter="url(#b1)"/>
<rect x="413.30" y="636.77" width="5.90" height="1.46" rx="0.8" fill="#141414" fill-opacity="0.140" filter="url(#b1)"/>
<rect x="421.25" y="636.69" width="5.90" height="1.62" rx="0.8" fill="#141414" fill-opacity="0.334" filter="url(#b1)"/>
<rect x="429.20" y="636.69" width="5.90" height="1.62" rx="0.8" fill="#141414" fill-opacity="0.334" filter="url(#b1)"/>
<rect x="437.15" y="636.73" width="5.90" height="1.54" rx="0.8" fill="#141414" fill-opacity="0.233" filter="url(#b1)"/>
<rect x="445.10" y="636.77" width="5.90" height="1.46" rx="0.8" fill="#141414" fill-opacity="0.140" filter="url(#b1)"/>
<rect x="453.05" y="636.81" width="5.90" height="1.38" rx="0.8" fill="#141414" fill-opacity="0.059" filter="url(#b1)"/>
<rect x="413.30" y="640.17" width="5.90" height="1.65" rx="0.8" fill="#141414" fill-opacity="0.186" filter="url(#b1)"/>
<rect x="421.25" y="640.07" width="5.90" height="1.87" rx="0.8" fill="#141414" fill-opacity="0.441" filter="url(#b1)"/>
<rect x="429.20" y="640.07" width="5.90" height="1.87" rx="0.8" fill="#141414" fill-opacity="0.441" filter="url(#b1)"/>
<rect x="437.15" y="640.13" width="5.90" height="1.74" rx="0.8" fill="#141414" fill-opacity="0.283" filter="url(#b1)"/>
<rect x="445.10" y="640.20" width="5.90" height="1.61" rx="0.8" fill="#141414" fill-opacity="0.140" filter="url(#b1)"/>
<rect x="453.05" y="640.24" width="5.90" height="1.52" rx="0.8" fill="#141414" fill-opacity="0.059" filter="url(#b1)"/>
<rect x="341.20" y="593.40" width="117.40" height="52.20" fill="none" stroke="#8d7548" stroke-width="1.3" />
<line x1="336.60" y1="597.70" x2="340.70" y2="597.70" stroke="#1a1a1a" stroke-width="0.9" />
<text x="335.90" y="600.25" font-size="8.8" text-anchor="end" font-weight="normal" fill="#1a1a1a" >100</text>
<line x1="336.60" y1="602.20" x2="340.70" y2="602.20" stroke="#1a1a1a" stroke-width="0.9" />
<text x="335.90" y="607.25" font-size="8.8" text-anchor="end" font-weight="normal" fill="#1a1a1a" >75</text>
<line x1="336.60" y1="611.40" x2="340.70" y2="611.40" stroke="#1a1a1a" stroke-width="0.9" />
<text x="335.90" y="614.95" font-size="8.8" text-anchor="end" font-weight="normal" fill="#1a1a1a" >50</text>
<line x1="336.60" y1="619.50" x2="340.70" y2="619.50" stroke="#1a1a1a" stroke-width="0.9" />
<text x="335.90" y="623.75" font-size="8.8" text-anchor="end" font-weight="normal" fill="#1a1a1a" >37</text>
<line x1="336.60" y1="632.30" x2="340.70" y2="632.30" stroke="#1a1a1a" stroke-width="0.9" />
<text x="335.90" y="635.55" font-size="8.8" text-anchor="end" font-weight="normal" fill="#1a1a1a" >25</text>
<polyline points="459.00,609.00 462.00,609.00" fill="none" stroke="#1a1a1a" stroke-width="1.0" />
<text x="463.40" y="610.30" text-anchor="start" fill="#1a1a1a"><tspan font-size="8.8" dy="0">p62</tspan></text>
<polyline points="459.00,615.60 462.00,615.60" fill="none" stroke="#1a1a1a" stroke-width="1.0" />
<text x="463.40" y="618.40" text-anchor="start" fill="#1a1a1a"><tspan font-size="8.8" dy="0">Arp11</tspan></text>
<polyline points="459.00,637.00 462.00,637.00" fill="none" stroke="#1a1a1a" stroke-width="1.0" />
<text x="463.40" y="638.80" text-anchor="start" fill="#1a1a1a"><tspan font-size="8.8" dy="0">p27</tspan></text>
<polyline points="459.00,640.00 460.20,640.20 461.00,642.60 462.20,642.60" fill="none" stroke="#1a1a1a" stroke-width="1.0" />
<text x="463.40" y="646.00" text-anchor="start" fill="#1a1a1a"><tspan font-size="8.8" dy="0">p25</tspan></text>
<rect x="340.80" y="652.80" width="117.70" height="49.50" fill="url(#g17)"/>
<rect x="343.80" y="655.20" width="5.60" height="1.60" fill="#141414" fill-opacity="0.212" filter="url(#b1)"/>
<rect x="343.80" y="661.20" width="5.60" height="1.60" fill="#141414" fill-opacity="0.383" filter="url(#b1)"/>
<rect x="343.80" y="671.70" width="5.60" height="1.60" fill="#141414" fill-opacity="0.340" filter="url(#b1)"/>
<rect x="343.80" y="680.20" width="5.60" height="1.60" fill="#141414" fill-opacity="0.212" filter="url(#b1)"/>
<rect x="343.80" y="693.45" width="5.60" height="1.60" fill="#141414" fill-opacity="0.255" filter="url(#b1)"/>
<rect x="349.70" y="657.35" width="5.90" height="2.31" rx="0.8" fill="#141414" fill-opacity="0.233" filter="url(#b1)"/>
<rect x="357.65" y="657.16" width="5.90" height="2.67" rx="0.8" fill="#141414" fill-opacity="0.554" filter="url(#b1)"/>
<rect x="365.60" y="656.99" width="5.90" height="3.03" rx="0.8" fill="#141414" fill-opacity="0.920" filter="url(#b1)"/>
<rect x="373.55" y="656.99" width="5.90" height="3.03" rx="0.8" fill="#141414" fill-opacity="0.920" filter="url(#b1)"/>
<rect x="381.50" y="657.08" width="5.90" height="2.85" rx="0.8" fill="#141414" fill-opacity="0.733" filter="url(#b1)"/>
<rect x="389.45" y="657.23" width="5.90" height="2.55" rx="0.8" fill="#141414" fill-opacity="0.441" filter="url(#b1)"/>
<rect x="397.40" y="657.28" width="5.90" height="2.43" rx="0.8" fill="#141414" fill-opacity="0.334" filter="url(#b1)"/>
<rect x="405.35" y="657.32" width="5.90" height="2.37" rx="0.8" fill="#141414" fill-opacity="0.283" filter="url(#b1)"/>
<rect x="413.30" y="657.35" width="5.90" height="2.31" rx="0.8" fill="#141414" fill-opacity="0.233" filter="url(#b1)"/>
<rect x="421.25" y="657.38" width="5.90" height="2.25" rx="0.8" fill="#141414" fill-opacity="0.186" filter="url(#b1)"/>
<rect x="429.20" y="657.40" width="5.90" height="2.19" rx="0.8" fill="#141414" fill-opacity="0.140" filter="url(#b1)"/>
<rect x="437.15" y="657.45" width="5.90" height="2.09" rx="0.8" fill="#141414" fill-opacity="0.074" filter="url(#b1)"/>
<rect x="445.10" y="657.48" width="5.90" height="2.05" rx="0.8" fill="#141414" fill-opacity="0.045" filter="url(#b1)"/>
<rect x="453.05" y="657.50" width="5.90" height="2.01" rx="0.8" fill="#141414" fill-opacity="0.025" filter="url(#b1)"/>
<rect x="357.65" y="661.23" width="5.90" height="1.35" rx="0.8" fill="#141414" fill-opacity="0.186" filter="url(#b1)"/>
<rect x="365.60" y="661.23" width="5.90" height="1.35" rx="0.8" fill="#141414" fill-opacity="0.186" filter="url(#b1)"/>
<rect x="373.55" y="661.23" width="5.90" height="1.35" rx="0.8" fill="#141414" fill-opacity="0.186" filter="url(#b1)"/>
<rect x="381.50" y="661.23" width="5.90" height="1.35" rx="0.8" fill="#141414" fill-opacity="0.186" filter="url(#b1)"/>
<rect x="389.45" y="671.79" width="5.90" height="1.42" rx="0.8" fill="#141414" fill-opacity="0.098" filter="url(#b1)"/>
<rect x="397.40" y="671.79" width="5.90" height="1.42" rx="0.8" fill="#141414" fill-opacity="0.098" filter="url(#b1)"/>
<rect x="405.35" y="671.79" width="5.90" height="1.42" rx="0.8" fill="#141414" fill-opacity="0.098" filter="url(#b1)"/>
<rect x="340.80" y="652.80" width="117.70" height="49.50" fill="none" stroke="#5b57aa" stroke-width="1.3" stroke-dasharray="3.8,2.1"/>
<line x1="336.20" y1="657.30" x2="340.30" y2="657.30" stroke="#1a1a1a" stroke-width="0.9" />
<text x="335.50" y="661.35" font-size="8.8" text-anchor="end" font-weight="normal" fill="#1a1a1a" >100</text>
<line x1="336.20" y1="662.90" x2="340.30" y2="662.90" stroke="#1a1a1a" stroke-width="0.9" />
<text x="335.50" y="668.15" font-size="8.8" text-anchor="end" font-weight="normal" fill="#1a1a1a" >75</text>
<line x1="336.20" y1="672.70" x2="340.30" y2="672.70" stroke="#1a1a1a" stroke-width="0.9" />
<text x="335.50" y="676.65" font-size="8.8" text-anchor="end" font-weight="normal" fill="#1a1a1a" >50</text>
<line x1="336.20" y1="680.20" x2="340.30" y2="680.20" stroke="#1a1a1a" stroke-width="0.9" />
<text x="335.50" y="685.05" font-size="8.8" text-anchor="end" font-weight="normal" fill="#1a1a1a" >37</text>
<line x1="336.20" y1="693.20" x2="340.30" y2="693.20" stroke="#1a1a1a" stroke-width="0.9" />
<text x="335.50" y="696.75" font-size="8.8" text-anchor="end" font-weight="normal" fill="#1a1a1a" >25</text>
<polyline points="458.90,659.20 460.80,659.20 460.80,658.40 462.40,658.40" fill="none" stroke="#1a1a1a" stroke-width="1.0" />
<text x="463.40" y="662.60" text-anchor="start" fill="#1a1a1a"><tspan font-size="5.0" dy="-3.0" font-style="italic">mCh</tspan><tspan font-size="9.0" dy="3.0">Spindly</tspan><tspan font-size="4.9" dy="-3.4">Δ26-32</tspan></text>
<rect x="341.00" y="710.00" width="117.50" height="51.20" fill="url(#g18)"/>
<rect x="343.80" y="714.20" width="5.60" height="1.60" fill="#141414" fill-opacity="0.212" filter="url(#b1)"/>
<rect x="343.80" y="719.70" width="5.60" height="1.60" fill="#141414" fill-opacity="0.383" filter="url(#b1)"/>
<rect x="343.80" y="729.70" width="5.60" height="1.60" fill="#141414" fill-opacity="0.340" filter="url(#b1)"/>
<rect x="343.80" y="738.45" width="5.60" height="1.60" fill="#141414" fill-opacity="0.255" filter="url(#b1)"/>
<rect x="343.80" y="750.95" width="5.60" height="1.60" fill="#141414" fill-opacity="0.297" filter="url(#b1)"/>
<rect x="349.70" y="714.82" width="5.90" height="2.37" rx="0.8" fill="#141414" fill-opacity="0.283" filter="url(#b1)"/>
<rect x="357.65" y="714.63" width="5.90" height="2.73" rx="0.8" fill="#141414" fill-opacity="0.613" filter="url(#b1)"/>
<rect x="365.60" y="714.49" width="5.90" height="3.03" rx="0.8" fill="#141414" fill-opacity="0.920" filter="url(#b1)"/>
<rect x="373.55" y="714.49" width="5.90" height="3.03" rx="0.8" fill="#141414" fill-opacity="0.920" filter="url(#b1)"/>
<rect x="381.50" y="714.58" width="5.90" height="2.85" rx="0.8" fill="#141414" fill-opacity="0.733" filter="url(#b1)"/>
<rect x="389.45" y="714.70" width="5.90" height="2.61" rx="0.8" fill="#141414" fill-opacity="0.497" filter="url(#b1)"/>
<rect x="397.40" y="714.75" width="5.90" height="2.49" rx="0.8" fill="#141414" fill-opacity="0.387" filter="url(#b1)"/>
<rect x="405.35" y="714.78" width="5.90" height="2.43" rx="0.8" fill="#141414" fill-opacity="0.334" filter="url(#b1)"/>
<rect x="413.30" y="714.82" width="5.90" height="2.37" rx="0.8" fill="#141414" fill-opacity="0.283" filter="url(#b1)"/>
<rect x="421.25" y="714.82" width="5.90" height="2.37" rx="0.8" fill="#141414" fill-opacity="0.283" filter="url(#b1)"/>
<rect x="429.20" y="714.85" width="5.90" height="2.31" rx="0.8" fill="#141414" fill-opacity="0.233" filter="url(#b1)"/>
<rect x="437.15" y="714.88" width="5.90" height="2.25" rx="0.8" fill="#141414" fill-opacity="0.186" filter="url(#b1)"/>
<rect x="445.10" y="714.90" width="5.90" height="2.19" rx="0.8" fill="#141414" fill-opacity="0.140" filter="url(#b1)"/>
<rect x="453.05" y="714.93" width="5.90" height="2.13" rx="0.8" fill="#141414" fill-opacity="0.098" filter="url(#b1)"/>
<rect x="357.65" y="719.09" width="5.90" height="1.31" rx="0.8" fill="#141414" fill-opacity="0.140" filter="url(#b1)"/>
<rect x="365.60" y="719.09" width="5.90" height="1.31" rx="0.8" fill="#141414" fill-opacity="0.140" filter="url(#b1)"/>
<rect x="373.55" y="719.09" width="5.90" height="1.31" rx="0.8" fill="#141414" fill-opacity="0.140" filter="url(#b1)"/>
<rect x="381.50" y="719.09" width="5.90" height="1.31" rx="0.8" fill="#141414" fill-opacity="0.140" filter="url(#b1)"/>
<rect x="349.70" y="724.74" width="5.90" height="1.52" rx="0.8" fill="#141414" fill-opacity="0.059" filter="url(#b1)"/>
<rect x="357.65" y="724.72" width="5.90" height="1.56" rx="0.8" fill="#141414" fill-opacity="0.098" filter="url(#b1)"/>
<rect x="365.60" y="724.70" width="5.90" height="1.61" rx="0.8" fill="#141414" fill-opacity="0.140" filter="url(#b1)"/>
<rect x="373.55" y="724.70" width="5.90" height="1.61" rx="0.8" fill="#141414" fill-opacity="0.140" filter="url(#b1)"/>
<rect x="381.50" y="724.70" width="5.90" height="1.61" rx="0.8" fill="#141414" fill-opacity="0.140" filter="url(#b1)"/>
<rect x="389.45" y="724.70" width="5.90" height="1.61" rx="0.8" fill="#141414" fill-opacity="0.140" filter="url(#b1)"/>
<rect x="397.40" y="724.67" width="5.90" height="1.65" rx="0.8" fill="#141414" fill-opacity="0.186" filter="url(#b1)"/>
<rect x="405.35" y="724.65" width="5.90" height="1.69" rx="0.8" fill="#141414" fill-opacity="0.233" filter="url(#b1)"/>
<rect x="413.30" y="724.59" width="5.90" height="1.83" rx="0.8" fill="#141414" fill-opacity="0.387" filter="url(#b1)"/>
<rect x="421.25" y="724.57" width="5.90" height="1.87" rx="0.8" fill="#141414" fill-opacity="0.441" filter="url(#b1)"/>
<rect x="429.20" y="724.57" width="5.90" height="1.87" rx="0.8" fill="#141414" fill-opacity="0.441" filter="url(#b1)"/>
<rect x="437.15" y="724.61" width="5.90" height="1.78" rx="0.8" fill="#141414" fill-opacity="0.334" filter="url(#b1)"/>
<rect x="445.10" y="724.63" width="5.90" height="1.74" rx="0.8" fill="#141414" fill-opacity="0.283" filter="url(#b1)"/>
<rect x="453.05" y="724.65" width="5.90" height="1.69" rx="0.8" fill="#141414" fill-opacity="0.233" filter="url(#b1)"/>
<rect x="349.70" y="731.72" width="5.90" height="1.56" rx="0.8" fill="#141414" fill-opacity="0.098" filter="url(#b1)"/>
<rect x="357.65" y="731.70" width="5.90" height="1.61" rx="0.8" fill="#141414" fill-opacity="0.140" filter="url(#b1)"/>
<rect x="365.60" y="731.67" width="5.90" height="1.65" rx="0.8" fill="#141414" fill-opacity="0.186" filter="url(#b1)"/>
<rect x="373.55" y="731.67" width="5.90" height="1.65" rx="0.8" fill="#141414" fill-opacity="0.186" filter="url(#b1)"/>
<rect x="381.50" y="731.67" width="5.90" height="1.65" rx="0.8" fill="#141414" fill-opacity="0.186" filter="url(#b1)"/>
<rect x="389.45" y="731.65" width="5.90" height="1.69" rx="0.8" fill="#141414" fill-opacity="0.233" filter="url(#b1)"/>
<rect x="397.40" y="731.63" width="5.90" height="1.74" rx="0.8" fill="#141414" fill-opacity="0.283" filter="url(#b1)"/>
<rect x="405.35" y="731.61" width="5.90" height="1.78" rx="0.8" fill="#141414" fill-opacity="0.334" filter="url(#b1)"/>
<rect x="413.30" y="731.57" width="5.90" height="1.87" rx="0.8" fill="#141414" fill-opacity="0.441" filter="url(#b1)"/>
<rect x="421.25" y="731.54" width="5.90" height="1.91" rx="0.8" fill="#141414" fill-opacity="0.497" filter="url(#b1)"/>
<rect x="429.20" y="731.57" width="5.90" height="1.87" rx="0.8" fill="#141414" fill-opacity="0.441" filter="url(#b1)"/>
<rect x="437.15" y="731.61" width="5.90" height="1.78" rx="0.8" fill="#141414" fill-opacity="0.334" filter="url(#b1)"/>
<rect x="445.10" y="731.63" width="5.90" height="1.74" rx="0.8" fill="#141414" fill-opacity="0.283" filter="url(#b1)"/>
<rect x="453.05" y="731.65" width="5.90" height="1.69" rx="0.8" fill="#141414" fill-opacity="0.233" filter="url(#b1)"/>
<rect x="357.65" y="736.95" width="5.90" height="1.09" rx="0.8" fill="#141414" fill-opacity="0.045" filter="url(#b1)"/>
<rect x="365.60" y="736.95" width="5.90" height="1.10" rx="0.8" fill="#141414" fill-opacity="0.059" filter="url(#b1)"/>
<rect x="373.55" y="736.95" width="5.90" height="1.10" rx="0.8" fill="#141414" fill-opacity="0.059" filter="url(#b1)"/>
<rect x="381.50" y="736.95" width="5.90" height="1.10" rx="0.8" fill="#141414" fill-opacity="0.059" filter="url(#b1)"/>
<rect x="389.45" y="736.95" width="5.90" height="1.10" rx="0.8" fill="#141414" fill-opacity="0.059" filter="url(#b1)"/>
<rect x="397.40" y="736.95" width="5.90" height="1.10" rx="0.8" fill="#141414" fill-opacity="0.059" filter="url(#b1)"/>
<rect x="405.35" y="736.95" width="5.90" height="1.10" rx="0.8" fill="#141414" fill-opacity="0.059" filter="url(#b1)"/>
<rect x="413.30" y="736.95" width="5.90" height="1.10" rx="0.8" fill="#141414" fill-opacity="0.059" filter="url(#b1)"/>
<rect x="421.25" y="736.95" width="5.90" height="1.10" rx="0.8" fill="#141414" fill-opacity="0.059" filter="url(#b1)"/>
<rect x="429.20" y="736.95" width="5.90" height="1.09" rx="0.8" fill="#141414" fill-opacity="0.045" filter="url(#b1)"/>
<rect x="405.35" y="752.86" width="5.90" height="1.28" rx="0.8" fill="#141414" fill-opacity="0.098" filter="url(#b1)"/>
<rect x="413.30" y="752.86" width="5.90" height="1.28" rx="0.8" fill="#141414" fill-opacity="0.098" filter="url(#b1)"/>
<rect x="421.25" y="752.85" width="5.90" height="1.30" rx="0.8" fill="#141414" fill-opacity="0.123" filter="url(#b1)"/>
<rect x="429.20" y="752.86" width="5.90" height="1.28" rx="0.8" fill="#141414" fill-opacity="0.098" filter="url(#b1)"/>
<rect x="437.15" y="752.87" width="5.90" height="1.26" rx="0.8" fill="#141414" fill-opacity="0.074" filter="url(#b1)"/>
<rect x="405.35" y="756.11" width="5.90" height="1.28" rx="0.8" fill="#141414" fill-opacity="0.098" filter="url(#b1)"/>
<rect x="413.30" y="756.11" width="5.90" height="1.28" rx="0.8" fill="#141414" fill-opacity="0.098" filter="url(#b1)"/>
<rect x="421.25" y="756.10" width="5.90" height="1.30" rx="0.8" fill="#141414" fill-opacity="0.123" filter="url(#b1)"/>
<rect x="429.20" y="756.11" width="5.90" height="1.28" rx="0.8" fill="#141414" fill-opacity="0.098" filter="url(#b1)"/>
<rect x="437.15" y="756.12" width="5.90" height="1.26" rx="0.8" fill="#141414" fill-opacity="0.074" filter="url(#b1)"/>
<rect x="341.00" y="710.00" width="117.50" height="51.20" fill="none" stroke="#5b57aa" stroke-width="1.3" />
<line x1="336.20" y1="717.40" x2="340.30" y2="717.40" stroke="#1a1a1a" stroke-width="0.9" />
<text x="335.50" y="720.15" font-size="8.8" text-anchor="end" font-weight="normal" fill="#1a1a1a" >100</text>
<line x1="336.20" y1="721.60" x2="340.30" y2="721.60" stroke="#1a1a1a" stroke-width="0.9" />
<text x="335.50" y="726.45" font-size="8.8" text-anchor="end" font-weight="normal" fill="#1a1a1a" >75</text>
<line x1="336.20" y1="731.30" x2="340.30" y2="731.30" stroke="#1a1a1a" stroke-width="0.9" />
<text x="335.50" y="735.55" font-size="8.8" text-anchor="end" font-weight="normal" fill="#1a1a1a" >50</text>
<line x1="336.20" y1="739.00" x2="340.30" y2="739.00" stroke="#1a1a1a" stroke-width="0.9" />
<text x="335.50" y="743.35" font-size="8.8" text-anchor="end" font-weight="normal" fill="#1a1a1a" >37</text>
<line x1="336.20" y1="751.40" x2="340.30" y2="751.40" stroke="#1a1a1a" stroke-width="0.9" />
<text x="335.50" y="756.05" font-size="8.8" text-anchor="end" font-weight="normal" fill="#1a1a1a" >25</text>
<polyline points="458.90,717.60 462.00,717.60" fill="none" stroke="#1a1a1a" stroke-width="1.0" />
<text x="463.40" y="719.00" text-anchor="start" fill="#1a1a1a"><tspan font-size="5.0" dy="-3.0" font-style="italic">mCh</tspan><tspan font-size="9.0" dy="3.0">Spindly</tspan><tspan font-size="4.9" dy="-3.4">Δ26-32</tspan></text>
<polyline points="458.90,726.80 462.00,726.80" fill="none" stroke="#1a1a1a" stroke-width="1.0" />
<text x="463.40" y="729.00" text-anchor="start" fill="#1a1a1a"><tspan font-size="8.8" dy="0">p62</tspan></text>
<polyline points="458.90,732.60 462.00,732.60" fill="none" stroke="#1a1a1a" stroke-width="1.0" />
<text x="463.40" y="738.00" text-anchor="start" fill="#1a1a1a"><tspan font-size="8.8" dy="0">Arp11</tspan></text>
<polyline points="458.90,752.40 462.00,752.40" fill="none" stroke="#1a1a1a" stroke-width="1.0" />
<text x="463.40" y="754.50" text-anchor="start" fill="#1a1a1a"><tspan font-size="8.8" dy="0">p27</tspan></text>
<polyline points="458.90,755.60 460.20,755.80 461.00,758.60 462.20,758.60" fill="none" stroke="#1a1a1a" stroke-width="1.0" />
<text x="463.40" y="762.20" text-anchor="start" fill="#1a1a1a"><tspan font-size="8.8" dy="0">p25</tspan></text>
</svg></body></html>
